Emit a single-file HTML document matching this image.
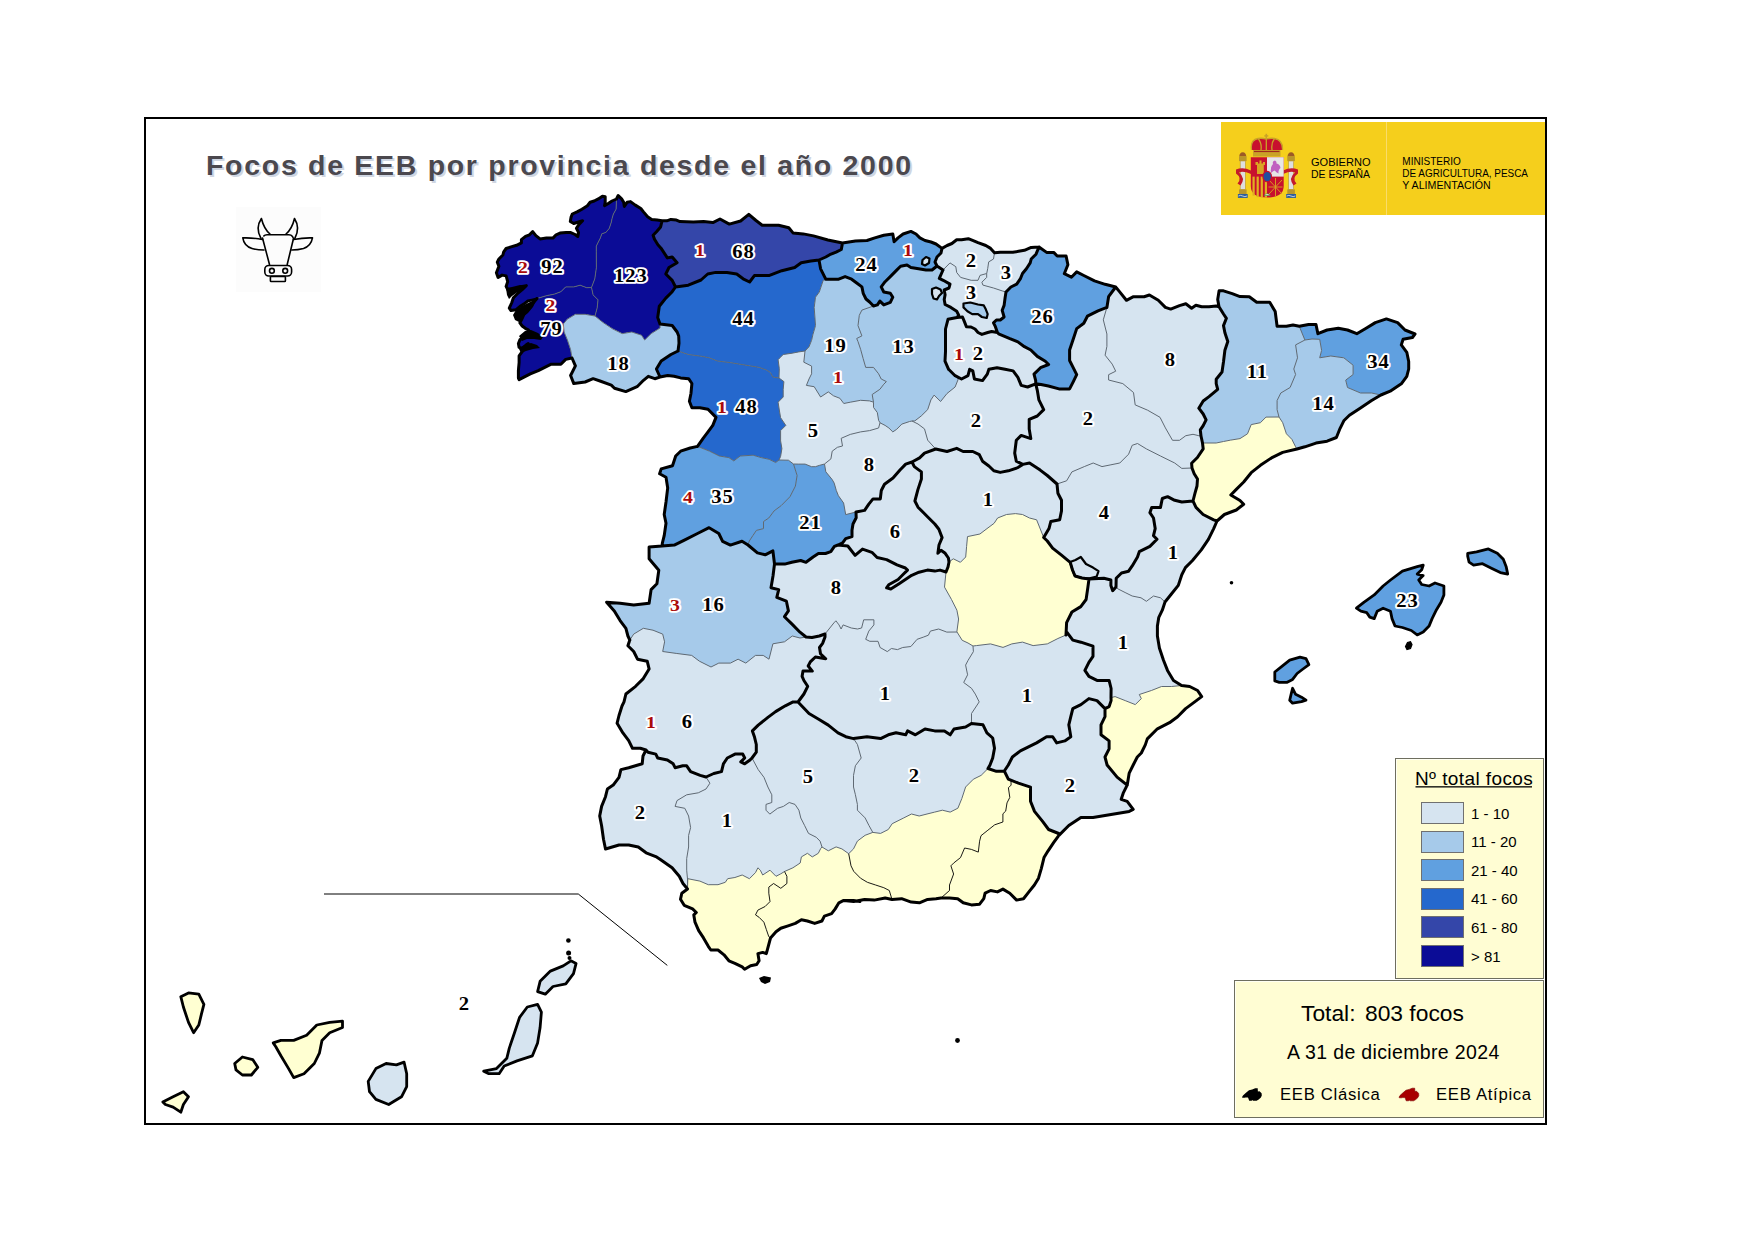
<!DOCTYPE html><html><head><meta charset="utf-8"><style>
html,body{margin:0;padding:0;background:#fff}
body{width:1753px;height:1241px;position:relative;overflow:hidden;font-family:"Liberation Sans",sans-serif}
#frame{position:absolute;left:144px;top:117px;width:1399px;height:1004px;border:2px solid #000}
svg{position:absolute;left:0;top:0}
svg text{font-family:"Liberation Sans",sans-serif;fill:#000}
text.tt{font-weight:bold;font-size:28.5px;letter-spacing:1.7px}
text.lg{font-size:15px}
text.b,text.r{font-family:"Liberation Serif",serif;font-weight:bold;font-size:17.8px;letter-spacing:0.8px;text-anchor:middle;paint-order:stroke;stroke:#fff;stroke-width:3.6px;stroke-linejoin:round}
text.r{font-size:17px}
text.b{fill:#000}
text.r{fill:#aa0a0a}
#logo{position:absolute;left:1221px;top:122px;width:324px;height:93px;background:#f5cf1c}
#logo .div{position:absolute;left:165px;top:0;width:1px;height:93px;background:#f9dc6a}
#leg{position:absolute;left:1395px;top:758px;width:149px;height:221px;background:#fffdd3;border:1px solid #6e6e5f;box-sizing:border-box;box-shadow:inset 1px 1px 0 #fffff2}
#leg .sw{position:absolute;left:25px;width:43px;height:22px;border:1px solid #707070;box-sizing:border-box}
#tot{position:absolute;left:1234px;top:980px;width:310px;height:138px;background:#fffdd3;border:1px solid #6e6e5f;box-sizing:border-box;box-shadow:inset 1px 1px 0 #fffff2}
#tot div{position:absolute;white-space:nowrap;color:#000}
</style></head><body>
<div id="frame"></div>
<div id="logo"><div class="div"></div>
</div>
<svg width="1753" height="1241" viewBox="0 0 1753 1241">
<rect x="236" y="207" width="85" height="85" fill="#fcfcfc"/>
<g fill="none" stroke="#000" stroke-width="1.6" stroke-linejoin="round" stroke-linecap="round">
<path d="M263.8 236 Q265 234.5 268 234.8 L288 234.8 Q291 234.5 292.5 236.5 L293.5 238.5 L287.2 264.5 M262.5 238 L269.5 264.5"/>
<path d="M261 238.5 Q255 228 261.4 218.5 Q264 229 270 234"/>
<path d="M294.8 238.5 Q300.5 228 294.5 218.5 Q292 229 286 234"/>
<path d="M262.5 239.5 Q252 237.5 242.8 237.9 Q244 246 252 248.5 Q257 250 264 250"/>
<path d="M293.5 239.5 Q304 237.5 312.5 237.9 Q311 246 303.5 248.5 Q298 250 291.8 250"/>
<rect x="264.8" y="265.5" width="26.8" height="10.5" rx="4"/>
<circle cx="271.9" cy="270.8" r="2.4"/><circle cx="285.2" cy="270.8" r="2.4"/>
<rect x="270.4" y="276.5" width="15" height="5" rx="0.8"/>
</g>
<path d="M519.1 379.6 L518.4 378.1 L518.4 370.4 L519.1 362.7 L519.1 355.8 L520.7 353.6 L523.0 350.5 L526.0 346.7 L528.3 343.6 L526.0 345.1 L522.2 348.2 L519.1 347.4 L518.4 343.6 L519.9 339.8 L523.0 337.5 L524.5 334.4 L526.8 332.9 L529.9 332.1 L528.3 329.8 L525.3 328.3 L522.2 326.0 L519.9 322.9 L522.2 318.3 L524.5 313.0 L526.8 309.9 L529.9 307.6 L533.0 303.0 L537.0 298.5 L535.9 299.3 L531.9 300.1 L527.9 300.9 L523.8 304.1 L519.8 306.6 L515.8 309.8 L511.0 310.6 L509.3 308.2 L511.8 302.5 L513.4 297.7 L517.4 293.7 L522.2 289.6 L526.3 285.6 L522.2 286.4 L517.4 289.6 L514.2 291.2 L511.0 293.7 L508.5 291.2 L506.1 286.4 L507.7 281.6 L506.1 275.9 L502.1 275.1 L498.1 277.5 L496.4 272.7 L498.9 266.3 L497.3 262.2 L498.9 259.0 L502.9 255.0 L503.7 251.8 L506.1 248.5 L511.0 246.9 L516.6 245.3 L521.4 242.9 L521.4 239.7 L525.5 236.4 L529.5 234.8 L532.7 231.6 L535.9 235.6 L540.0 238.9 L546.4 238.1 L552.9 238.1 L556.1 234.8 L560.0 233.1 L566.2 232.4 L570.3 232.4 L575.1 234.5 L577.8 236.5 L578.5 232.4 L576.4 228.3 L579.2 224.2 L582.6 220.8 L577.8 222.2 L573.7 223.5 L570.3 221.5 L571.0 217.4 L572.3 214.0 L577.1 211.9 L581.9 209.2 L587.4 205.7 L590.1 202.3 L594.2 201.0 L598.3 198.9 L602.4 196.2 L605.2 196.8 L605.2 202.3 L604.5 205.7 L607.9 203.7 L612.0 201.0 L616.5 199.0 L618.2 195.5 L621.6 198.9 L623.7 202.3 L624.3 206.4 L627.1 202.3 L630.5 201.6 L635.3 205.1 L640.8 208.5 L643.5 211.9 L647.6 216.7 L651.7 219.4 L657.2 220.1 L662.0 220.8 L666.8 220.8 L670.9 219.4 L676.4 220.1 L680.0 221.6 L693.3 222.1 L703.6 221.6 L712.9 222.6 L720.0 219.0 L729.3 224.1 L740.6 221.0 L748.8 214.4 L756.0 220.5 L762.2 225.2 L778.6 225.2 L788.8 227.7 L793.0 232.9 L803.2 233.9 L813.5 235.9 L827.9 240.0 L842.5 243.0 L855.4 241.1 L867.0 240.5 L874.8 237.9 L883.8 235.3 L892.8 234.0 L894.1 241.8 L898.0 237.9 L903.1 234.0 L910.9 231.4 L916.0 234.0 L919.9 237.9 L925.0 240.5 L931.0 242.0 L936.0 244.0 L942.0 248.4 L947.1 245.5 L951.9 243.5 L956.7 239.7 L961.6 239.7 L968.3 238.7 L973.2 240.6 L978.0 242.6 L985.8 245.5 L990.6 248.4 L994.5 252.7 L1000.3 252.2 L1007.0 252.2 L1012.8 252.2 L1018.6 251.3 L1024.4 250.3 L1031.2 247.4 L1039.0 247.0 L1046.6 252.4 L1053.7 252.4 L1057.2 256.0 L1066.1 256.0 L1067.9 264.8 L1064.3 273.7 L1071.4 277.2 L1076.7 271.9 L1083.8 275.5 L1094.5 280.8 L1105.1 284.3 L1115.7 287.0 L1119.3 291.4 L1126.4 300.3 L1133.5 296.7 L1144.1 296.7 L1149.4 295.0 L1158.3 300.3 L1165.4 307.4 L1170.7 309.1 L1179.5 305.6 L1185.8 303.8 L1191.6 308.2 L1195.9 305.3 L1201.7 306.7 L1209.0 306.7 L1216.2 306.0 L1219.0 306.7 L1217.7 299.5 L1219.1 290.8 L1223.5 290.8 L1232.2 293.7 L1240.0 296.6 L1249.3 296.7 L1256.7 302.2 L1269.7 302.2 L1275.2 311.5 L1277.1 326.3 L1286.4 326.3 L1293.0 325.0 L1299.3 326.3 L1308.6 324.5 L1316.0 324.5 L1317.9 333.7 L1327.1 330.0 L1338.3 328.2 L1347.5 330.0 L1356.8 333.7 L1366.1 328.2 L1375.3 322.6 L1386.4 318.9 L1397.6 322.6 L1405.0 330.0 L1410.0 332.0 L1415.0 334.0 L1412.4 337.5 L1403.1 339.3 L1401.3 344.9 L1406.8 352.3 L1408.7 361.5 L1408.7 369.0 L1406.8 376.4 L1401.3 383.8 L1390.2 391.2 L1380.9 395.0 L1371.6 400.5 L1360.5 407.9 L1349.4 415.3 L1343.8 420.8 L1340.1 428.3 L1336.4 437.5 L1327.1 441.2 L1316.0 443.1 L1304.9 446.8 L1297.0 449.0 L1282.7 452.4 L1271.5 457.9 L1260.4 465.3 L1251.2 472.7 L1243.7 482.0 L1236.3 489.4 L1230.8 495.0 L1240.0 500.5 L1243.7 504.2 L1236.3 510.0 L1224.4 514.5 L1217.0 521.0 L1213.7 528.6 L1208.4 539.3 L1201.3 549.9 L1192.5 560.5 L1185.4 567.6 L1181.8 574.7 L1178.3 585.4 L1171.2 594.2 L1165.0 602.0 L1162.3 610.2 L1158.8 617.3 L1157.4 626.0 L1157.4 636.0 L1159.4 648.0 L1163.5 660.3 L1167.5 670.4 L1173.5 680.4 L1181.6 685.5 L1189.7 686.5 L1197.6 690.5 L1201.7 696.6 L1193.7 702.6 L1185.6 708.6 L1177.6 716.7 L1169.5 722.7 L1157.4 728.8 L1147.3 738.9 L1145.3 744.9 L1141.3 753.0 L1137.3 757.0 L1133.2 765.0 L1129.2 773.1 L1127.2 785.2 L1123.2 793.2 L1121.2 799.3 L1127.2 801.3 L1133.2 809.4 L1129.2 811.4 L1117.1 813.4 L1105.0 815.4 L1093.0 817.4 L1080.9 817.4 L1068.8 825.5 L1058.7 835.6 L1053.6 842.6 L1048.1 850.8 L1044.0 857.6 L1041.3 868.6 L1038.5 878.2 L1034.4 885.0 L1028.9 891.9 L1023.5 898.7 L1016.6 900.1 L1009.8 893.2 L1002.9 889.1 L997.4 891.9 L990.6 890.5 L985.1 893.2 L983.8 898.7 L979.6 904.2 L971.4 904.9 L963.2 902.8 L957.7 898.7 L949.5 898.0 L941.0 898.0 L936.0 898.7 L927.6 899.4 L919.4 902.8 L911.2 902.1 L901.6 898.7 L892.0 899.5 L885.2 898.0 L874.2 900.1 L864.6 899.4 L853.7 901.4 L843.7 900.4 L838.9 902.8 L835.2 908.9 L831.6 913.7 L824.4 916.1 L821.9 921.0 L814.7 923.4 L807.4 921.0 L801.4 919.8 L795.3 923.4 L788.1 925.8 L780.8 928.2 L776.0 931.8 L770.5 938.0 L767.6 948.8 L766.3 953.6 L762.7 952.4 L757.9 953.6 L759.1 960.8 L756.7 964.5 L750.6 965.7 L744.6 969.3 L742.2 966.9 L734.9 963.3 L728.9 960.8 L724.0 954.8 L718.0 950.0 L710.8 950.0 L708.3 946.3 L703.5 937.9 L698.7 930.6 L695.0 922.2 L693.8 914.9 L696.3 912.5 L692.6 908.9 L684.2 905.3 L680.5 899.2 L681.8 893.2 L687.5 889.0 L683.0 883.5 L679.3 876.3 L672.1 867.8 L660.0 859.3 L655.8 856.6 L646.1 852.8 L638.3 847.0 L628.7 845.0 L619.0 845.0 L605.5 849.0 L603.5 839.2 L601.6 825.7 L599.7 816.0 L601.6 806.4 L605.5 796.7 L607.4 789.0 L613.2 785.1 L619.0 777.4 L620.9 769.6 L628.7 767.7 L642.2 763.8 L643.0 756.0 L646.0 750.0 L640.3 748.3 L632.5 748.3 L628.7 740.6 L622.9 732.9 L617.1 723.2 L619.0 715.5 L622.0 706.0 L624.0 701.8 L625.9 694.0 L635.6 686.3 L643.3 678.6 L649.1 668.9 L647.2 661.2 L637.5 659.2 L633.7 651.5 L627.9 645.7 L629.8 640.0 L627.9 636.0 L625.9 628.3 L620.1 620.6 L614.3 610.9 L606.6 602.2 L620.1 603.2 L633.7 605.1 L649.1 603.2 L651.1 589.6 L656.9 583.8 L658.8 570.3 L649.1 558.7 L649.1 547.1 L662.0 546.0 L662.4 542.8 L664.2 535.7 L666.0 523.3 L664.2 514.5 L666.0 502.0 L667.7 487.9 L666.0 477.2 L659.6 473.8 L661.2 468.9 L672.5 465.7 L675.7 456.0 L680.6 451.2 L690.2 448.0 L697.5 446.4 L703.1 438.3 L708.0 431.9 L712.8 425.4 L716.0 417.4 L708.0 409.3 L699.9 407.7 L691.9 407.7 L689.4 401.2 L691.0 393.2 L691.9 383.5 L688.6 378.7 L680.6 377.9 L674.1 376.3 L667.7 375.5 L660.0 377.0 L654.8 378.7 L648.3 376.3 L643.5 380.3 L637.1 386.7 L625.8 391.6 L614.5 388.3 L611.3 385.1 L600.0 381.0 L593.1 378.7 L585.1 382.0 L573.8 383.6 L570.6 375.5 L575.4 365.8 L572.0 358.0 L565.7 359.4 L560.9 364.2 L551.2 364.2 L538.3 370.7 L530.3 373.9 L519.1 379.6 Z" fill="#d6e4f0"/>
<path d="M519.1 379.6 L518.4 378.1 L518.4 370.4 L519.1 362.7 L519.1 355.8 L520.7 353.6 L523.0 350.5 L526.0 346.7 L528.3 343.6 L526.0 345.1 L522.2 348.2 L519.1 347.4 L518.4 343.6 L519.9 339.8 L523.0 337.5 L524.5 334.4 L526.8 332.9 L529.9 332.1 L528.3 329.8 L525.3 328.3 L522.2 326.0 L519.9 322.9 L522.2 318.3 L524.5 313.0 L526.8 309.9 L529.9 307.6 L533.0 303.0 L537.0 298.5 L546.4 295.7 L554.5 294.1 L560.9 291.7 L565.7 286.9 L573.8 286.9 L580.2 285.2 L586.7 287.7 L591.5 287.5 L593.1 294.9 L598.0 299.8 L597.2 307.8 L595.0 316.0 L585.1 314.3 L575.4 314.3 L567.4 319.1 L563.3 323.9 L564.1 332.0 L567.4 340.0 L570.6 349.7 L572.0 358.0 L565.7 359.4 L560.9 364.2 L551.2 364.2 L538.3 370.7 L530.3 373.9 L519.1 379.6 Z" fill="#0b0c96"/>
<path d="M537.0 298.5 L535.9 299.3 L531.9 300.1 L527.9 300.9 L523.8 304.1 L519.8 306.6 L515.8 309.8 L511.0 310.6 L509.3 308.2 L511.8 302.5 L513.4 297.7 L517.4 293.7 L522.2 289.6 L526.3 285.6 L522.2 286.4 L517.4 289.6 L514.2 291.2 L511.0 293.7 L508.5 291.2 L506.1 286.4 L507.7 281.6 L506.1 275.9 L502.1 275.1 L498.1 277.5 L496.4 272.7 L498.9 266.3 L497.3 262.2 L498.9 259.0 L502.9 255.0 L503.7 251.8 L506.1 248.5 L511.0 246.9 L516.6 245.3 L521.4 242.9 L521.4 239.7 L525.5 236.4 L529.5 234.8 L532.7 231.6 L535.9 235.6 L540.0 238.9 L546.4 238.1 L552.9 238.1 L556.1 234.8 L560.0 233.1 L566.2 232.4 L570.3 232.4 L575.1 234.5 L577.8 236.5 L578.5 232.4 L576.4 228.3 L579.2 224.2 L582.6 220.8 L577.8 222.2 L573.7 223.5 L570.3 221.5 L571.0 217.4 L572.3 214.0 L577.1 211.9 L581.9 209.2 L587.4 205.7 L590.1 202.3 L594.2 201.0 L598.3 198.9 L602.4 196.2 L605.2 196.8 L605.2 202.3 L604.5 205.7 L607.9 203.7 L612.0 201.0 L616.5 199.0 L616.1 209.2 L613.4 214.0 L612.0 218.7 L611.3 222.2 L609.3 228.3 L605.9 232.4 L601.8 233.8 L600.4 237.9 L598.3 242.0 L596.3 246.1 L596.3 251.4 L596.4 267.5 L594.8 278.8 L591.5 287.5 L586.7 287.7 L580.2 285.2 L573.8 286.9 L565.7 286.9 L560.9 291.7 L554.5 294.1 L546.4 295.7 L537.0 298.5 Z" fill="#0b0c96"/>
<path d="M616.5 199.0 L618.2 195.5 L621.6 198.9 L623.7 202.3 L624.3 206.4 L627.1 202.3 L630.5 201.6 L635.3 205.1 L640.8 208.5 L643.5 211.9 L647.6 216.7 L651.7 219.4 L657.2 220.1 L662.0 220.8 L660.6 227.0 L656.5 231.8 L653.1 235.2 L654.5 239.3 L657.9 244.8 L661.0 248.2 L667.4 257.9 L672.2 257.0 L677.1 262.7 L669.0 267.5 L665.8 274.0 L672.2 280.4 L675.5 287.0 L672.2 291.7 L665.8 298.1 L659.3 306.2 L657.7 317.5 L660.0 324.0 L660.0 328.0 L651.2 333.6 L644.7 340.0 L641.5 335.2 L631.8 332.0 L622.2 333.6 L612.5 328.8 L602.8 322.3 L595.0 316.0 L597.2 307.8 L598.0 299.8 L593.1 294.9 L591.5 287.5 L594.8 278.8 L596.4 267.5 L596.3 251.4 L596.3 246.1 L598.3 242.0 L600.4 237.9 L601.8 233.8 L605.9 232.4 L609.3 228.3 L611.3 222.2 L612.0 218.7 L613.4 214.0 L616.1 209.2 L616.5 199.0 Z" fill="#0b0c96"/>
<path d="M595.0 316.0 L602.8 322.3 L612.5 328.8 L622.2 333.6 L631.8 332.0 L641.5 335.2 L644.7 340.0 L651.2 333.6 L660.0 328.0 L660.0 324.0 L672.2 325.5 L677.1 332.0 L678.7 336.0 L679.0 343.2 L678.0 351.0 L670.9 354.5 L661.2 361.0 L656.4 369.0 L660.0 377.0 L654.8 378.7 L648.3 376.3 L643.5 380.3 L637.1 386.7 L625.8 391.6 L614.5 388.3 L611.3 385.1 L600.0 381.0 L593.1 378.7 L585.1 382.0 L573.8 383.6 L570.6 375.5 L575.4 365.8 L572.0 358.0 L570.6 349.7 L567.4 340.0 L564.1 332.0 L563.3 323.9 L567.4 319.1 L575.4 314.3 L585.1 314.3 L595.0 316.0 Z" fill="#a6caea"/>
<path d="M662.0 220.8 L666.8 220.8 L670.9 219.4 L676.4 220.1 L680.0 221.6 L693.3 222.1 L703.6 221.6 L712.9 222.6 L720.0 219.0 L729.3 224.1 L740.6 221.0 L748.8 214.4 L756.0 220.5 L762.2 225.2 L778.6 225.2 L788.8 227.7 L793.0 232.9 L803.2 233.9 L813.5 235.9 L827.9 240.0 L842.5 243.0 L841.3 249.5 L836.1 252.1 L829.7 254.7 L825.8 257.0 L819.0 260.0 L810.8 261.1 L801.2 262.7 L794.7 267.5 L781.8 270.7 L768.9 275.6 L754.4 275.6 L749.6 282.0 L743.1 278.8 L736.7 274.0 L727.0 272.4 L715.7 272.4 L707.7 274.0 L701.0 280.0 L688.3 285.2 L675.5 287.0 L672.2 280.4 L665.8 274.0 L669.0 267.5 L677.1 262.7 L672.2 257.0 L667.4 257.9 L661.0 248.2 L657.9 244.8 L654.5 239.3 L653.1 235.2 L656.5 231.8 L660.6 227.0 L662.0 220.8 Z" fill="#3446a9"/>
<path d="M675.5 287.0 L688.3 285.2 L701.0 280.0 L707.7 274.0 L715.7 272.4 L727.0 272.4 L736.7 274.0 L743.1 278.8 L749.6 282.0 L754.4 275.6 L768.9 275.6 L781.8 270.7 L794.7 267.5 L801.2 262.7 L810.8 261.1 L819.0 260.0 L820.6 268.8 L824.5 276.6 L825.8 279.2 L823.2 280.4 L819.3 292.0 L815.5 297.2 L814.2 307.5 L815.5 325.6 L812.9 334.6 L811.6 340.3 L809.0 346.8 L805.0 351.0 L798.7 351.9 L792.2 353.2 L783.2 354.5 L780.6 357.1 L778.1 359.7 L779.3 368.7 L779.0 378.0 L772.9 377.0 L770.3 372.5 L766.4 370.0 L759.3 367.4 L749.6 365.8 L739.9 364.2 L730.2 362.6 L717.4 361.0 L709.3 357.8 L701.2 356.2 L688.3 354.5 L678.0 351.0 L679.0 343.2 L678.7 336.0 L677.1 332.0 L672.2 325.5 L660.0 324.0 L657.7 317.5 L659.3 306.2 L665.8 298.1 L672.2 291.7 L675.5 287.0 Z" fill="#2568cd"/>
<path d="M678.0 351.0 L688.3 354.5 L701.2 356.2 L709.3 357.8 L717.4 361.0 L730.2 362.6 L739.9 364.2 L749.6 365.8 L759.3 367.4 L766.4 370.0 L770.3 372.5 L772.9 377.0 L779.0 378.0 L783.9 381.6 L783.2 389.3 L783.2 397.0 L778.1 402.2 L779.3 410.0 L780.6 417.7 L785.8 425.4 L780.6 430.6 L780.6 440.9 L781.9 448.6 L780.6 456.4 L779.0 460.0 L775.7 462.5 L769.2 459.3 L761.2 457.6 L753.1 455.2 L740.2 456.0 L733.8 460.9 L728.9 457.6 L719.3 456.0 L709.6 451.2 L697.5 446.4 L703.1 438.3 L708.0 431.9 L712.8 425.4 L716.0 417.4 L708.0 409.3 L699.9 407.7 L691.9 407.7 L689.4 401.2 L691.0 393.2 L691.9 383.5 L688.6 378.7 L680.6 377.9 L674.1 376.3 L667.7 375.5 L660.0 377.0 L656.4 369.0 L661.2 361.0 L670.9 354.5 L678.0 351.0 Z" fill="#2568cd"/>
<path d="M842.5 243.0 L855.4 241.1 L867.0 240.5 L874.8 237.9 L883.8 235.3 L892.8 234.0 L894.1 241.8 L898.0 237.9 L903.1 234.0 L910.9 231.4 L916.0 234.0 L919.9 237.9 L925.0 240.5 L931.0 242.0 L936.0 244.0 L942.0 248.4 L941.0 253.0 L937.0 257.0 L935.0 262.0 L937.0 266.0 L932.0 270.0 L926.0 270.0 L918.6 268.8 L910.9 267.5 L907.0 265.0 L900.6 266.3 L896.7 270.1 L890.3 276.6 L885.1 281.7 L881.2 286.9 L883.8 292.0 L890.3 293.3 L892.8 297.2 L890.3 302.4 L883.8 304.9 L879.9 301.1 L877.4 304.9 L873.5 306.0 L869.6 302.0 L866.0 299.0 L863.2 293.3 L861.9 286.9 L856.7 283.0 L851.6 279.2 L845.1 276.6 L838.7 279.2 L825.8 279.2 L824.5 276.6 L820.6 268.8 L819.0 260.0 L825.8 257.0 L829.7 254.7 L836.1 252.1 L841.3 249.5 L842.5 243.0 Z" fill="#60a0e0"/>
<path d="M825.8 279.2 L838.7 279.2 L845.1 276.6 L851.6 279.2 L856.7 283.0 L861.9 286.9 L863.2 293.3 L866.0 299.0 L869.6 302.0 L873.5 306.0 L861.9 310.1 L859.3 315.3 L858.0 325.6 L861.9 335.9 L856.7 338.5 L858.0 341.6 L860.6 349.3 L863.1 358.4 L865.7 367.4 L873.5 367.4 L878.6 373.8 L881.2 379.0 L886.4 381.6 L883.8 384.2 L879.9 389.3 L872.2 394.5 L873.5 402.2 L869.6 400.9 L860.6 400.3 L850.3 402.2 L843.8 403.5 L839.9 398.3 L833.5 395.8 L828.3 391.9 L820.6 397.0 L814.2 386.7 L806.4 385.4 L809.0 379.0 L811.6 373.8 L811.6 366.1 L803.8 362.2 L805.0 351.0 L809.0 346.8 L811.6 340.3 L812.9 334.6 L815.5 325.6 L814.2 307.5 L815.5 297.2 L819.3 292.0 L823.2 280.4 L825.8 279.2 Z" fill="#a6caea"/>
<path d="M873.5 306.0 L877.4 304.9 L879.9 301.1 L883.8 304.9 L890.3 302.4 L892.8 297.2 L890.3 293.3 L883.8 292.0 L881.2 286.9 L885.1 281.7 L890.3 276.6 L896.7 270.1 L900.6 266.3 L907.0 265.0 L910.9 267.5 L918.6 268.8 L926.0 270.0 L932.0 270.0 L937.0 266.0 L943.0 270.0 L939.3 278.3 L943.2 280.3 L950.0 284.1 L949.0 288.0 L944.2 290.0 L945.1 294.8 L944.2 299.6 L945.1 304.5 L950.9 307.4 L956.7 311.2 L958.7 315.1 L957.0 317.5 L948.0 319.3 L945.5 329.0 L945.5 340.3 L945.5 351.6 L945.0 361.2 L948.6 369.3 L958.3 379.0 L955.1 387.0 L947.0 393.5 L940.6 401.5 L934.1 395.1 L930.9 399.9 L927.7 409.6 L921.2 416.0 L914.8 420.9 L912.0 421.0 L909.6 421.5 L901.8 424.1 L896.7 429.3 L892.8 431.9 L888.9 428.0 L885.1 425.4 L880.0 422.8 L878.6 420.3 L877.3 412.5 L873.5 407.4 L873.5 402.2 L872.2 394.5 L879.9 389.3 L883.8 384.2 L886.4 381.6 L881.2 379.0 L878.6 373.8 L873.5 367.4 L865.7 367.4 L863.1 358.4 L860.6 349.3 L858.0 341.6 L856.7 338.5 L861.9 335.9 L858.0 325.6 L859.3 315.3 L861.9 310.1 L873.5 306.0 Z" fill="#a6caea"/>
<path d="M1039.0 247.0 L1046.6 252.4 L1053.7 252.4 L1057.2 256.0 L1066.1 256.0 L1067.9 264.8 L1064.3 273.7 L1071.4 277.2 L1076.7 271.9 L1083.8 275.5 L1094.5 280.8 L1105.1 284.3 L1115.7 287.0 L1108.6 296.7 L1106.9 307.4 L1098.0 310.9 L1087.4 316.2 L1083.8 323.3 L1076.7 328.6 L1073.2 339.3 L1069.6 349.9 L1069.6 360.5 L1073.2 367.6 L1076.7 374.7 L1073.2 381.8 L1069.6 388.9 L1059.0 388.9 L1048.4 386.0 L1041.0 384.5 L1035.7 383.8 L1035.7 380.6 L1034.0 374.1 L1040.5 367.7 L1048.6 364.5 L1045.3 361.2 L1037.3 356.4 L1030.8 350.0 L1024.4 346.7 L1017.9 341.9 L1009.9 338.7 L998.6 333.8 L997.4 332.5 L995.4 326.7 L993.5 322.8 L996.4 320.0 L1000.3 320.0 L1004.1 317.0 L1002.2 310.3 L1004.1 305.4 L1005.1 297.7 L1006.0 292.0 L1010.9 287.0 L1016.7 284.1 L1020.6 278.3 L1022.5 273.5 L1026.4 268.7 L1030.2 262.9 L1031.2 259.0 L1036.0 254.2 L1039.0 247.0 Z" fill="#60a0e0"/>
<path d="M1219.0 306.7 L1217.7 299.5 L1219.1 290.8 L1223.5 290.8 L1232.2 293.7 L1240.0 296.6 L1249.3 296.7 L1256.7 302.2 L1269.7 302.2 L1275.2 311.5 L1277.1 326.3 L1286.4 326.3 L1293.0 325.0 L1299.3 326.3 L1302.0 333.0 L1304.9 340.0 L1295.6 344.9 L1297.5 357.8 L1293.8 369.0 L1295.6 374.5 L1290.1 387.5 L1280.8 393.0 L1277.1 400.5 L1277.1 409.7 L1279.0 417.0 L1266.0 417.1 L1260.4 422.7 L1251.2 424.6 L1247.5 433.8 L1240.0 438.6 L1230.7 440.1 L1223.5 441.5 L1216.2 443.0 L1206.1 443.0 L1202.5 443.0 L1201.0 436.0 L1200.3 429.9 L1203.2 425.6 L1206.1 419.8 L1203.2 414.0 L1198.8 408.2 L1203.2 401.0 L1209.0 396.6 L1217.7 389.3 L1216.2 383.6 L1216.2 379.2 L1222.0 372.0 L1223.5 361.8 L1224.9 350.2 L1227.8 341.5 L1224.9 332.8 L1223.5 325.6 L1226.4 318.3 L1223.5 314.0 L1219.0 306.7 Z" fill="#a6caea"/>
<path d="M1299.3 326.3 L1308.6 324.5 L1316.0 324.5 L1317.9 333.7 L1327.1 330.0 L1338.3 328.2 L1347.5 330.0 L1356.8 333.7 L1366.1 328.2 L1375.3 322.6 L1386.4 318.9 L1397.6 322.6 L1405.0 330.0 L1410.0 332.0 L1415.0 334.0 L1412.4 337.5 L1403.1 339.3 L1401.3 344.9 L1406.8 352.3 L1408.7 361.5 L1408.7 369.0 L1406.8 376.4 L1401.3 383.8 L1390.2 391.2 L1380.9 395.0 L1371.6 393.0 L1360.5 393.0 L1347.5 387.5 L1345.7 380.1 L1353.1 374.5 L1353.1 365.2 L1343.8 357.8 L1330.8 356.0 L1319.7 357.8 L1321.6 350.4 L1319.7 339.3 L1312.0 339.0 L1304.9 340.0 L1302.0 333.0 L1299.3 326.3 Z" fill="#60a0e0"/>
<path d="M1304.9 340.0 L1312.0 339.0 L1319.7 339.3 L1321.6 350.4 L1319.7 357.8 L1330.8 356.0 L1343.8 357.8 L1353.1 365.2 L1353.1 374.5 L1345.7 380.1 L1347.5 387.5 L1360.5 393.0 L1371.6 393.0 L1380.9 395.0 L1371.6 400.5 L1360.5 407.9 L1349.4 415.3 L1343.8 420.8 L1340.1 428.3 L1336.4 437.5 L1327.1 441.2 L1316.0 443.1 L1304.9 446.8 L1297.0 449.0 L1295.6 446.8 L1291.9 439.4 L1286.4 433.8 L1282.7 422.7 L1279.0 417.0 L1277.1 409.7 L1277.1 400.5 L1280.8 393.0 L1290.1 387.5 L1295.6 374.5 L1293.8 369.0 L1297.5 357.8 L1295.6 344.9 L1304.9 340.0 Z" fill="#a6caea"/>
<path d="M1279.0 417.0 L1282.7 422.7 L1286.4 433.8 L1291.9 439.4 L1295.6 446.8 L1297.0 449.0 L1282.7 452.4 L1271.5 457.9 L1260.4 465.3 L1251.2 472.7 L1243.7 482.0 L1236.3 489.4 L1230.8 495.0 L1240.0 500.5 L1243.7 504.2 L1236.3 510.0 L1224.4 514.5 L1217.0 521.0 L1213.7 519.8 L1203.1 514.5 L1196.0 507.4 L1193.0 501.0 L1195.0 493.2 L1197.0 486.0 L1197.5 479.0 L1194.2 473.7 L1192.0 468.0 L1191.6 463.3 L1197.4 457.5 L1203.2 448.8 L1202.5 443.0 L1206.1 443.0 L1216.2 443.0 L1223.5 441.5 L1230.7 440.1 L1240.0 438.6 L1247.5 433.8 L1251.2 424.6 L1260.4 422.7 L1266.0 417.1 L1279.0 417.0 Z" fill="#ffffd2"/>
<path d="M1043.7 537.5 L1047.3 541.0 L1052.6 548.1 L1061.5 555.2 L1070.2 562.3 L1072.5 570.0 L1075.0 576.0 L1082.0 578.0 L1089.0 579.0 L1087.9 587.1 L1086.1 599.5 L1080.8 606.6 L1071.9 612.0 L1066.6 622.6 L1066.0 635.0 L1057.9 638.5 L1047.3 643.9 L1033.1 645.6 L1022.5 642.1 L1011.8 643.9 L1003.0 647.4 L990.5 643.9 L976.4 645.6 L973.0 646.0 L968.0 643.0 L962.2 640.3 L957.0 632.0 L956.9 631.5 L958.6 619.0 L956.9 610.2 L951.5 599.5 L944.5 587.1 L946.0 572.0 L948.0 567.0 L949.0 562.0 L953.3 558.8 L960.4 562.3 L965.7 557.0 L966.6 546.4 L967.5 536.6 L979.9 534.0 L987.0 528.6 L994.1 523.3 L997.6 518.0 L1006.5 514.5 L1015.4 513.6 L1022.5 514.5 L1029.5 518.0 L1036.6 519.8 L1043.7 537.5 Z" fill="#ffffd2"/>
<path d="M1181.6 685.5 L1189.7 686.5 L1197.6 690.5 L1201.7 696.6 L1193.7 702.6 L1185.6 708.6 L1177.6 716.7 L1169.5 722.7 L1157.4 728.8 L1147.3 738.9 L1145.3 744.9 L1141.3 753.0 L1137.3 757.0 L1133.2 765.0 L1129.2 773.1 L1127.2 785.2 L1117.1 777.1 L1107.1 765.0 L1105.0 757.0 L1109.1 748.9 L1109.1 740.9 L1101.0 734.8 L1101.0 724.8 L1105.0 716.7 L1105.0 708.6 L1109.1 706.6 L1111.1 700.6 L1111.0 697.6 L1115.1 696.6 L1125.2 700.6 L1135.3 704.6 L1141.3 698.6 L1139.3 694.5 L1151.4 690.5 L1161.5 686.5 L1171.5 686.5 L1181.6 685.5 Z" fill="#ffffd2"/>
<path d="M697.5 446.4 L709.6 451.2 L719.3 456.0 L728.9 457.6 L733.8 460.9 L740.2 456.0 L753.1 455.2 L761.2 457.6 L769.2 459.3 L775.7 462.5 L779.0 460.0 L788.4 460.2 L793.5 464.0 L797.1 475.5 L795.4 486.1 L790.0 496.7 L781.2 505.6 L774.1 510.9 L768.8 518.0 L763.5 521.5 L763.5 528.6 L756.4 530.4 L752.8 535.7 L749.3 541.0 L748.0 545.0 L742.0 541.3 L730.4 545.1 L722.6 541.3 L718.8 533.5 L709.1 527.7 L697.5 533.5 L685.9 539.3 L674.3 545.1 L662.0 546.0 L662.4 542.8 L664.2 535.7 L666.0 523.3 L664.2 514.5 L666.0 502.0 L667.7 487.9 L666.0 477.2 L659.6 473.8 L661.2 468.9 L672.5 465.7 L675.7 456.0 L680.6 451.2 L690.2 448.0 L697.5 446.4 Z" fill="#60a0e0"/>
<path d="M793.5 464.0 L798.7 464.1 L805.1 464.1 L811.6 466.7 L815.4 466.7 L819.3 465.4 L824.5 464.0 L825.8 471.8 L832.2 479.6 L834.2 483.1 L836.3 490.5 L838.4 495.7 L843.6 503.0 L845.7 514.6 L856.0 512.0 L856.2 517.7 L853.0 524.0 L852.0 530.3 L852.0 536.6 L845.7 538.7 L842.6 542.9 L838.0 545.0 L834.4 546.4 L830.8 551.7 L825.5 553.5 L818.4 553.5 L813.1 557.0 L806.0 562.3 L800.7 560.5 L791.8 562.3 L784.7 564.1 L774.5 564.0 L772.9 550.9 L765.2 554.8 L757.4 552.9 L748.0 545.0 L749.3 541.0 L752.8 535.7 L756.4 530.4 L763.5 528.6 L763.5 521.5 L768.8 518.0 L774.1 510.9 L781.2 505.6 L790.0 496.7 L795.4 486.1 L797.1 475.5 L793.5 464.0 Z" fill="#60a0e0"/>
<path d="M662.0 546.0 L674.3 545.1 L685.9 539.3 L697.5 533.5 L709.1 527.7 L718.8 533.5 L722.6 541.3 L730.4 545.1 L742.0 541.3 L748.0 545.0 L757.4 552.9 L765.2 554.8 L772.9 550.9 L774.5 564.0 L773.0 576.0 L771.0 587.7 L778.7 589.6 L776.8 597.4 L786.4 601.2 L788.4 610.9 L784.5 616.7 L792.3 624.4 L800.0 632.2 L806.0 637.0 L800.0 638.0 L792.3 636.0 L784.5 641.8 L772.9 643.8 L769.0 659.2 L763.2 655.4 L755.5 655.4 L745.8 663.1 L738.1 659.2 L730.4 663.1 L718.8 663.1 L711.0 667.0 L699.4 661.2 L691.7 655.4 L676.2 653.4 L662.7 651.5 L664.6 641.8 L662.7 634.1 L653.0 630.2 L643.3 628.3 L633.7 634.1 L629.8 640.0 L627.9 636.0 L625.9 628.3 L620.1 620.6 L614.3 610.9 L606.6 602.2 L620.1 603.2 L633.7 605.1 L649.1 603.2 L651.1 589.6 L656.9 583.8 L658.8 570.3 L649.1 558.7 L649.1 547.1 L662.0 546.0 Z" fill="#a6caea"/>
<path d="M687.5 889.0 L687.8 878.7 L699.9 881.1 L708.3 884.7 L718.0 884.7 L725.3 882.3 L727.7 878.7 L734.9 877.5 L742.2 875.0 L749.4 878.7 L755.5 872.6 L757.9 867.8 L760.3 870.2 L762.7 875.0 L770.0 870.2 L776.0 876.3 L780.8 873.8 L784.5 871.5 L792.9 867.8 L800.2 863.0 L801.4 856.9 L807.4 853.3 L812.3 856.9 L818.3 853.3 L820.7 848.5 L822.0 847.0 L828.3 850.8 L836.1 846.9 L841.9 848.9 L848.7 853.7 L853.5 848.9 L857.4 841.1 L865.1 835.3 L872.8 832.4 L880.6 833.4 L888.3 829.5 L892.2 823.7 L903.8 817.9 L911.5 814.0 L919.2 816.0 L927.0 814.0 L934.7 812.1 L942.4 810.2 L950.2 812.1 L957.9 808.2 L961.8 798.6 L965.6 787.0 L973.4 779.2 L981.1 775.4 L988.0 768.5 L996.4 771.3 L1004.3 771.0 L1008.3 779.1 L1018.4 783.2 L1030.5 787.2 L1030.5 801.3 L1034.5 811.4 L1042.6 821.4 L1048.6 829.5 L1058.7 833.5 L1058.7 835.6 L1053.6 842.6 L1048.1 850.8 L1044.0 857.6 L1041.3 868.6 L1038.5 878.2 L1034.4 885.0 L1028.9 891.9 L1023.5 898.7 L1016.6 900.1 L1009.8 893.2 L1002.9 889.1 L997.4 891.9 L990.6 890.5 L985.1 893.2 L983.8 898.7 L979.6 904.2 L971.4 904.9 L963.2 902.8 L957.7 898.7 L949.5 898.0 L941.0 898.0 L936.0 898.7 L927.6 899.4 L919.4 902.8 L911.2 902.1 L901.6 898.7 L892.0 899.5 L885.2 898.0 L874.2 900.1 L864.6 899.4 L853.7 901.4 L843.7 900.4 L838.9 902.8 L835.2 908.9 L831.6 913.7 L824.4 916.1 L821.9 921.0 L814.7 923.4 L807.4 921.0 L801.4 919.8 L795.3 923.4 L788.1 925.8 L780.8 928.2 L776.0 931.8 L770.5 938.0 L767.6 948.8 L766.3 953.6 L762.7 952.4 L757.9 953.6 L759.1 960.8 L756.7 964.5 L750.6 965.7 L744.6 969.3 L742.2 966.9 L734.9 963.3 L728.9 960.8 L724.0 954.8 L718.0 950.0 L710.8 950.0 L708.3 946.3 L703.5 937.9 L698.7 930.6 L695.0 922.2 L693.8 914.9 L696.3 912.5 L692.6 908.9 L684.2 905.3 L680.5 899.2 L681.8 893.2 L687.5 889.0 Z" fill="#ffffd2"/>
<path d="M616.5 199.0 L616.1 209.2 L613.4 214.0 L612.0 218.7 L611.3 222.2 L609.3 228.3 L605.9 232.4 L601.8 233.8 L600.4 237.9 L598.3 242.0 L596.3 246.1 L596.3 251.4 L596.4 267.5 L594.8 278.8 L591.5 287.5 M537.0 298.5 L546.4 295.7 L554.5 294.1 L560.9 291.7 L565.7 286.9 L573.8 286.9 L580.2 285.2 L586.7 287.7 L591.5 287.5 M591.5 287.5 L593.1 294.9 L598.0 299.8 L597.2 307.8 L595.0 316.0 M595.0 316.0 L585.1 314.3 L575.4 314.3 L567.4 319.1 L563.3 323.9 L564.1 332.0 L567.4 340.0 L570.6 349.7 L572.0 358.0 M595.0 316.0 L602.8 322.3 L612.5 328.8 L622.2 333.6 L631.8 332.0 L641.5 335.2 L644.7 340.0 L651.2 333.6 L660.0 328.0 L660.0 324.0 M825.8 279.2 L823.2 280.4 L819.3 292.0 L815.5 297.2 L814.2 307.5 L815.5 325.6 L812.9 334.6 L811.6 340.3 L809.0 346.8 L805.0 351.0 M873.5 306.0 L861.9 310.1 L859.3 315.3 L858.0 325.6 L861.9 335.9 L856.7 338.5 L858.0 341.6 L860.6 349.3 L863.1 358.4 L865.7 367.4 L873.5 367.4 L878.6 373.8 L881.2 379.0 L886.4 381.6 L883.8 384.2 L879.9 389.3 L872.2 394.5 L873.5 402.2 M805.0 351.0 L803.8 362.2 L811.6 366.1 L811.6 373.8 L809.0 379.0 L806.4 385.4 L814.2 386.7 L820.6 397.0 L828.3 391.9 L833.5 395.8 L839.9 398.3 L843.8 403.5 L850.3 402.2 L860.6 400.3 L869.6 400.9 L873.5 402.2 M805.0 351.0 L798.7 351.9 L792.2 353.2 L783.2 354.5 L780.6 357.1 L778.1 359.7 L779.3 368.7 L779.0 378.0 M678.0 351.0 L688.3 354.5 L701.2 356.2 L709.3 357.8 L717.4 361.0 L730.2 362.6 L739.9 364.2 L749.6 365.8 L759.3 367.4 L766.4 370.0 L770.3 372.5 L772.9 377.0 L779.0 378.0 M779.0 378.0 L783.9 381.6 L783.2 389.3 L783.2 397.0 L778.1 402.2 L779.3 410.0 L780.6 417.7 L785.8 425.4 L780.6 430.6 L780.6 440.9 L781.9 448.6 L780.6 456.4 L779.0 460.0 M779.0 460.0 L788.4 460.2 L793.5 464.0 M793.5 464.0 L798.7 464.1 L805.1 464.1 L811.6 466.7 L815.4 466.7 L819.3 465.4 L824.5 464.0 M824.5 464.0 L830.9 458.9 L832.2 451.2 L837.4 447.3 L842.5 446.0 L841.2 438.3 L850.3 434.4 L860.6 431.9 L869.6 430.6 L878.6 428.0 L880.0 422.8 M873.5 402.2 L873.5 407.4 L877.3 412.5 L878.6 420.3 L880.0 422.8 M880.0 422.8 L885.1 425.4 L888.9 428.0 L892.8 431.9 L896.7 429.3 L901.8 424.1 L909.6 421.5 L912.0 421.0 M948.6 369.3 L958.3 379.0 L955.1 387.0 L947.0 393.5 L940.6 401.5 L934.1 395.1 L930.9 399.9 L927.7 409.6 L921.2 416.0 L914.8 420.9 L912.0 421.0 M912.0 421.0 L918.0 424.0 L924.5 428.9 L927.7 440.2 L935.7 449.0 M994.5 252.7 L993.5 259.0 L988.7 261.9 L987.7 268.7 L986.7 273.5 M943.0 270.0 L950.0 262.9 L955.8 266.7 L956.7 272.5 L960.6 277.4 L971.2 280.3 L978.0 280.3 L980.0 275.4 L986.7 273.5 M986.7 273.5 L986.7 277.4 L981.9 282.2 L982.9 285.1 L993.5 288.0 L1002.2 290.9 L1006.0 292.0 M1106.9 307.4 L1103.3 319.8 L1106.9 334.0 L1106.9 346.4 L1105.1 355.2 L1112.2 364.1 L1115.7 371.2 L1108.6 374.7 L1108.6 380.0 L1122.8 383.6 L1133.5 392.5 L1135.2 404.9 L1147.6 410.2 L1160.0 417.3 L1165.4 427.9 L1172.5 440.3 L1179.5 440.3 L1185.8 435.7 L1193.0 434.3 L1198.8 435.7 L1201.0 436.0 M1299.3 326.3 L1302.0 333.0 L1304.9 340.0 M1304.9 340.0 L1312.0 339.0 L1319.7 339.3 L1321.6 350.4 L1319.7 357.8 L1330.8 356.0 L1343.8 357.8 L1353.1 365.2 L1353.1 374.5 L1345.7 380.1 L1347.5 387.5 L1360.5 393.0 L1371.6 393.0 L1380.9 395.0 M1304.9 340.0 L1295.6 344.9 L1297.5 357.8 L1293.8 369.0 L1295.6 374.5 L1290.1 387.5 L1280.8 393.0 L1277.1 400.5 L1277.1 409.7 L1279.0 417.0 M1279.0 417.0 L1266.0 417.1 L1260.4 422.7 L1251.2 424.6 L1247.5 433.8 L1240.0 438.6 L1230.7 440.1 L1223.5 441.5 L1216.2 443.0 L1206.1 443.0 L1202.5 443.0 M1279.0 417.0 L1282.7 422.7 L1286.4 433.8 L1291.9 439.4 L1295.6 446.8 L1297.0 449.0 M1057.0 484.0 L1066.6 480.8 L1071.9 471.9 L1084.3 466.6 L1093.2 463.0 L1102.0 466.6 L1110.9 464.8 L1119.8 463.0 L1128.6 454.2 L1132.2 445.3 L1137.5 443.5 L1146.4 448.9 L1160.5 456.0 L1174.7 463.0 L1181.8 468.4 L1192.0 468.0 M1116.0 587.0 L1118.0 588.9 L1125.1 592.5 L1132.2 596.0 L1141.0 597.8 L1146.4 601.3 L1153.5 596.0 L1160.5 597.8 L1165.0 602.0 M1043.7 537.5 L1036.6 519.8 L1029.5 518.0 L1022.5 514.5 L1015.4 513.6 L1006.5 514.5 L997.6 518.0 L994.1 523.3 L987.0 528.6 L979.9 534.0 L967.5 536.6 L966.6 546.4 L965.7 557.0 L960.4 562.3 L953.3 558.8 L949.0 562.0 M824.5 464.0 L825.8 471.8 L832.2 479.6 L834.2 483.1 L836.3 490.5 L838.4 495.7 L843.6 503.0 L845.7 514.6 L856.0 512.0 M946.0 572.0 L944.5 587.1 L951.5 599.5 L956.9 610.2 L958.6 619.0 L956.9 631.5 L957.0 632.0 M957.0 632.0 L962.2 640.3 L968.0 643.0 L973.0 646.0 M973.0 646.0 L976.4 645.6 L990.5 643.9 L1003.0 647.4 L1011.8 643.9 L1022.5 642.1 L1033.1 645.6 L1047.3 643.9 L1057.9 638.5 L1066.0 635.0 M697.5 446.4 L709.6 451.2 L719.3 456.0 L728.9 457.6 L733.8 460.9 L740.2 456.0 L753.1 455.2 L761.2 457.6 L769.2 459.3 L775.7 462.5 L779.0 460.0 M793.5 464.0 L797.1 475.5 L795.4 486.1 L790.0 496.7 L781.2 505.6 L774.1 510.9 L768.8 518.0 L763.5 521.5 L763.5 528.6 L756.4 530.4 L752.8 535.7 L749.3 541.0 L748.0 545.0 M629.8 640.0 L633.7 634.1 L643.3 628.3 L653.0 630.2 L662.7 634.1 L664.6 641.8 L662.7 651.5 L676.2 653.4 L691.7 655.4 L699.4 661.2 L711.0 667.0 L718.8 663.1 L730.4 663.1 L738.1 659.2 L745.8 663.1 L755.5 655.4 L763.2 655.4 L769.0 659.2 L772.9 643.8 L784.5 641.8 L792.3 636.0 L800.0 638.0 L806.0 637.0 M706.0 777.0 L709.9 783.2 L706.0 789.0 L698.3 792.8 L686.7 794.8 L677.0 800.6 L675.1 806.4 L684.8 808.3 L688.6 816.0 L690.6 827.6 L688.6 835.4 L688.6 847.0 L686.7 858.6 L686.7 870.2 L687.5 879.0 L687.5 889.0 M752.0 758.0 L758.2 769.6 L764.0 777.4 L767.9 787.0 L771.8 794.8 L771.8 802.5 L766.0 804.4 L766.0 810.2 L769.8 814.1 L777.6 808.3 L783.4 806.4 L789.2 802.5 L795.0 804.4 L798.9 810.2 L800.8 818.0 L804.7 825.7 L808.5 833.4 L816.3 837.3 L820.1 841.2 L822.0 847.0 M687.5 889.0 L687.8 878.7 L699.9 881.1 L708.3 884.7 L718.0 884.7 L725.3 882.3 L727.7 878.7 L734.9 877.5 L742.2 875.0 L749.4 878.7 L755.5 872.6 L757.9 867.8 L760.3 870.2 L762.7 875.0 L770.0 870.2 L776.0 876.3 L780.8 873.8 L784.5 871.5 M784.5 871.5 L792.9 867.8 L800.2 863.0 L801.4 856.9 L807.4 853.3 L812.3 856.9 L818.3 853.3 L820.7 848.5 L822.0 847.0 M825.0 634.0 L829.8 628.0 L833.9 622.9 L835.9 620.8 L839.0 624.9 L841.1 629.0 L843.1 624.9 L851.3 628.0 L857.5 629.0 L861.6 628.0 L863.7 619.8 L873.9 619.8 L873.9 624.9 L868.8 631.1 L865.7 639.3 L869.8 641.3 L878.0 641.3 L880.1 647.5 L887.3 651.6 L891.4 648.5 L897.5 649.6 L902.7 647.5 L910.9 646.5 L917.1 639.3 L923.2 637.2 L928.4 635.2 L930.4 631.1 L938.6 629.0 L946.8 632.1 L957.0 632.0 M973.0 646.0 L973.4 651.6 L968.1 660.3 L965.6 665.1 L967.6 674.8 L963.7 682.5 L971.5 688.3 L975.3 694.1 L979.2 701.9 L971.5 713.5 L971.5 723.5 M1111.0 697.6 L1115.1 696.6 L1125.2 700.6 L1135.3 704.6 L1141.3 698.6 L1139.3 694.5 L1151.4 690.5 L1161.5 686.5 L1171.5 686.5 L1181.6 685.5 M853.5 738.6 L857.4 744.4 L861.2 758.0 L855.4 765.7 L853.5 775.4 L853.5 787.0 L855.4 794.7 L857.4 804.4 L857.4 810.2 L865.1 817.9 L869.0 825.6 L872.8 832.4 M988.0 768.5 L981.1 775.4 L973.4 779.2 L965.6 787.0 L961.8 798.6 L957.9 808.2 L950.2 812.1 L942.4 810.2 L934.7 812.1 L927.0 814.0 L919.2 816.0 L911.5 814.0 L903.8 817.9 L892.2 823.7 L888.3 829.5 L880.6 833.4 L872.8 832.4 M872.8 832.4 L865.1 835.3 L857.4 841.1 L853.5 848.9 L848.7 853.7 M822.0 847.0 L828.3 850.8 L836.1 846.9 L841.9 848.9 L848.7 853.7" fill="none" stroke="#5f6973" stroke-width="1" stroke-linejoin="round"/>
<path d="M784.5 871.5 L786.9 876.3 L786.9 883.5 L780.8 888.3 L773.6 883.5 L768.8 887.1 L768.8 893.2 L770.0 901.6 L765.1 906.5 L757.9 910.1 L755.5 914.9 L759.1 917.3 L763.9 922.2 L766.3 929.4 L768.8 936.7 L770.5 938.0 M848.7 853.7 L851.0 865.8 L853.7 871.3 L860.5 878.2 L867.4 882.3 L875.6 885.0 L883.8 887.7 L889.3 890.5 L892.0 899.5 M1011.0 781.0 L1011.1 785.1 L1008.4 787.8 L1009.8 797.4 L1007.0 802.9 L1005.7 811.1 L1002.9 813.8 L1002.9 822.0 L994.7 824.8 L987.9 830.2 L981.0 835.7 L979.6 841.2 L978.3 852.1 L971.4 849.4 L964.6 848.0 L960.5 857.6 L953.6 863.1 L950.9 865.8 L953.6 874.0 L949.5 885.0 L949.5 890.5 L941.0 898.0" fill="none" stroke="#000" stroke-width="0.9" stroke-linejoin="round"/>
<path d="M963.5 303.5 L970.3 302.5 L978.0 304.5 L983.8 305.4 L985.8 309.3 L987.7 314.1 L986.7 318.0 L981.9 317.0 L978.0 314.1 L972.2 314.1 L967.4 311.2 L963.5 307.4 Z" fill="#a6caea" stroke="#000" stroke-width="2.2" stroke-linejoin="round"/>
<path d="M932.0 289.0 L936.0 287.5 L940.5 289.5 L942.0 293.0 L939.0 296.0 L937.0 299.5 L933.5 298.5 L932.0 294.0 Z" fill="#d6e4f0" stroke="#000" stroke-width="2.2" stroke-linejoin="round"/>
<path d="M922.5 260.0 L926.0 257.0 L929.5 258.5 L929.0 263.0 L925.0 265.5 L922.0 264.0 Z" fill="#d6e4f0" stroke="#000" stroke-width="2.2" stroke-linejoin="round"/>
<path d="M1070.0 562.0 L1075.5 560.0 L1080.8 557.0 L1086.0 564.0 L1093.0 567.6 L1098.5 571.2 L1096.7 576.5 L1089.6 578.3 L1082.0 578.0 L1075.0 576.0 L1072.5 570.0 Z" fill="#d6e4f0" stroke="#000" stroke-width="2.2" stroke-linejoin="round"/>
<path d="M519.1 379.6 L518.4 378.1 L518.4 370.4 L519.1 362.7 L519.1 355.8 L520.7 353.6 L523.0 350.5 L526.0 346.7 L528.3 343.6 L526.0 345.1 L522.2 348.2 L519.1 347.4 L518.4 343.6 L519.9 339.8 L523.0 337.5 L524.5 334.4 L526.8 332.9 L529.9 332.1 L528.3 329.8 L525.3 328.3 L522.2 326.0 L519.9 322.9 L522.2 318.3 L524.5 313.0 L526.8 309.9 L529.9 307.6 L533.0 303.0 L537.0 298.5 M537.0 298.5 L535.9 299.3 L531.9 300.1 L527.9 300.9 L523.8 304.1 L519.8 306.6 L515.8 309.8 L511.0 310.6 L509.3 308.2 L511.8 302.5 L513.4 297.7 L517.4 293.7 L522.2 289.6 L526.3 285.6 L522.2 286.4 L517.4 289.6 L514.2 291.2 L511.0 293.7 L508.5 291.2 L506.1 286.4 L507.7 281.6 L506.1 275.9 L502.1 275.1 L498.1 277.5 L496.4 272.7 L498.9 266.3 L497.3 262.2 L498.9 259.0 L502.9 255.0 L503.7 251.8 L506.1 248.5 L511.0 246.9 L516.6 245.3 L521.4 242.9 L521.4 239.7 L525.5 236.4 L529.5 234.8 L532.7 231.6 L535.9 235.6 L540.0 238.9 L546.4 238.1 L552.9 238.1 L556.1 234.8 L560.0 233.1 L566.2 232.4 L570.3 232.4 L575.1 234.5 L577.8 236.5 L578.5 232.4 L576.4 228.3 L579.2 224.2 L582.6 220.8 L577.8 222.2 L573.7 223.5 L570.3 221.5 L571.0 217.4 L572.3 214.0 L577.1 211.9 L581.9 209.2 L587.4 205.7 L590.1 202.3 L594.2 201.0 L598.3 198.9 L602.4 196.2 L605.2 196.8 L605.2 202.3 L604.5 205.7 L607.9 203.7 L612.0 201.0 L616.5 199.0 M616.5 199.0 L618.2 195.5 L621.6 198.9 L623.7 202.3 L624.3 206.4 L627.1 202.3 L630.5 201.6 L635.3 205.1 L640.8 208.5 L643.5 211.9 L647.6 216.7 L651.7 219.4 L657.2 220.1 L662.0 220.8 M572.0 358.0 L565.7 359.4 L560.9 364.2 L551.2 364.2 L538.3 370.7 L530.3 373.9 L519.1 379.6 M572.0 358.0 L575.4 365.8 L570.6 375.5 L573.8 383.6 L585.1 382.0 L593.1 378.7 L600.0 381.0 L611.3 385.1 L614.5 388.3 L625.8 391.6 L637.1 386.7 L643.5 380.3 L648.3 376.3 L654.8 378.7 L660.0 377.0 M660.0 377.0 L656.4 369.0 L661.2 361.0 L670.9 354.5 L678.0 351.0 M678.0 351.0 L679.0 343.2 L678.7 336.0 L677.1 332.0 L672.2 325.5 L660.0 324.0 M662.0 220.8 L660.6 227.0 L656.5 231.8 L653.1 235.2 L654.5 239.3 L657.9 244.8 L661.0 248.2 L667.4 257.9 L672.2 257.0 L677.1 262.7 L669.0 267.5 L665.8 274.0 L672.2 280.4 L675.5 287.0 M675.5 287.0 L672.2 291.7 L665.8 298.1 L659.3 306.2 L657.7 317.5 L660.0 324.0 M662.0 220.8 L666.8 220.8 L670.9 219.4 L676.4 220.1 L680.0 221.6 L693.3 222.1 L703.6 221.6 L712.9 222.6 L720.0 219.0 L729.3 224.1 L740.6 221.0 L748.8 214.4 L756.0 220.5 L762.2 225.2 L778.6 225.2 L788.8 227.7 L793.0 232.9 L803.2 233.9 L813.5 235.9 L827.9 240.0 L842.5 243.0 M675.5 287.0 L688.3 285.2 L701.0 280.0 L707.7 274.0 L715.7 272.4 L727.0 272.4 L736.7 274.0 L743.1 278.8 L749.6 282.0 L754.4 275.6 L768.9 275.6 L781.8 270.7 L794.7 267.5 L801.2 262.7 L810.8 261.1 L819.0 260.0 M819.0 260.0 L825.8 257.0 L829.7 254.7 L836.1 252.1 L841.3 249.5 L842.5 243.0 M842.5 243.0 L855.4 241.1 L867.0 240.5 L874.8 237.9 L883.8 235.3 L892.8 234.0 L894.1 241.8 L898.0 237.9 L903.1 234.0 L910.9 231.4 L916.0 234.0 L919.9 237.9 L925.0 240.5 L931.0 242.0 L936.0 244.0 L942.0 248.4 M819.0 260.0 L820.6 268.8 L824.5 276.6 L825.8 279.2 M825.8 279.2 L838.7 279.2 L845.1 276.6 L851.6 279.2 L856.7 283.0 L861.9 286.9 L863.2 293.3 L866.0 299.0 L869.6 302.0 L873.5 306.0 M873.5 306.0 L877.4 304.9 L879.9 301.1 L883.8 304.9 L890.3 302.4 L892.8 297.2 L890.3 293.3 L883.8 292.0 L881.2 286.9 L885.1 281.7 L890.3 276.6 L896.7 270.1 L900.6 266.3 L907.0 265.0 L910.9 267.5 L918.6 268.8 L926.0 270.0 L932.0 270.0 L937.0 266.0 M942.0 248.4 L941.0 253.0 L937.0 257.0 L935.0 262.0 L937.0 266.0 M937.0 266.0 L943.0 270.0 M935.7 449.0 L947.0 451.5 L956.7 448.3 L963.1 451.5 L972.8 451.5 L979.3 454.7 L982.5 461.2 L988.9 466.0 L993.8 470.8 L1000.2 472.4 L1008.3 470.8 L1017.9 467.6 L1022.8 464.4 M935.7 449.0 L924.5 453.1 L919.6 457.9 L912.0 462.0 M1035.7 383.8 L1037.3 390.3 L1038.9 399.9 L1043.7 409.6 L1037.3 416.0 L1029.2 419.3 L1029.2 428.9 L1030.8 438.6 L1021.2 435.4 L1016.3 440.2 L1014.7 453.1 L1016.3 461.2 L1022.8 464.4 M942.0 248.4 L947.1 245.5 L951.9 243.5 L956.7 239.7 L961.6 239.7 L968.3 238.7 L973.2 240.6 L978.0 242.6 L985.8 245.5 L990.6 248.4 L994.5 252.7 M994.5 252.7 L1000.3 252.2 L1007.0 252.2 L1012.8 252.2 L1018.6 251.3 L1024.4 250.3 L1031.2 247.4 L1039.0 247.0 M943.0 270.0 L939.3 278.3 L943.2 280.3 L950.0 284.1 L949.0 288.0 L944.2 290.0 L945.1 294.8 L944.2 299.6 L945.1 304.5 L950.9 307.4 L956.7 311.2 L958.7 315.1 L957.0 317.5 M957.0 317.5 L962.5 317.0 L964.5 321.9 L966.4 326.7 L971.0 327.0 L975.0 329.0 L978.0 332.5 L981.9 334.4 L987.7 332.5 L991.6 331.5 L997.4 332.5 M1006.0 292.0 L1005.1 297.7 L1004.1 305.4 L1002.2 310.3 L1004.1 317.0 L1000.3 320.0 L996.4 320.0 L993.5 322.8 L995.4 326.7 L997.4 332.5 M1039.0 247.0 L1036.0 254.2 L1031.2 259.0 L1030.2 262.9 L1026.4 268.7 L1022.5 273.5 L1020.6 278.3 L1016.7 284.1 L1010.9 287.0 L1006.0 292.0 M957.0 317.5 L948.0 319.3 L945.5 329.0 L945.5 340.3 L945.5 351.6 L945.0 361.2 L948.6 369.3 M948.6 369.3 L955.1 375.7 L961.5 379.0 L968.0 375.7 L969.6 369.3 L972.8 370.9 L974.4 379.0 L982.5 380.6 L987.3 374.1 L988.9 369.3 L997.0 367.7 L1005.0 369.3 L1013.1 370.9 L1017.9 377.4 L1021.2 385.4 L1027.6 387.0 L1035.7 383.8 M997.4 332.5 L998.6 333.8 L1009.9 338.7 L1017.9 341.9 L1024.4 346.7 L1030.8 350.0 L1037.3 356.4 L1045.3 361.2 L1048.6 364.5 L1040.5 367.7 L1034.0 374.1 L1035.7 380.6 L1035.7 383.8 M1039.0 247.0 L1046.6 252.4 L1053.7 252.4 L1057.2 256.0 L1066.1 256.0 L1067.9 264.8 L1064.3 273.7 L1071.4 277.2 L1076.7 271.9 L1083.8 275.5 L1094.5 280.8 L1105.1 284.3 L1115.7 287.0 M1115.7 287.0 L1108.6 296.7 L1106.9 307.4 M1106.9 307.4 L1098.0 310.9 L1087.4 316.2 L1083.8 323.3 L1076.7 328.6 L1073.2 339.3 L1069.6 349.9 L1069.6 360.5 L1073.2 367.6 L1076.7 374.7 L1073.2 381.8 L1069.6 388.9 L1059.0 388.9 L1048.4 386.0 L1041.0 384.5 L1035.7 383.8 M1115.7 287.0 L1119.3 291.4 L1126.4 300.3 L1133.5 296.7 L1144.1 296.7 L1149.4 295.0 L1158.3 300.3 L1165.4 307.4 L1170.7 309.1 L1179.5 305.6 L1185.8 303.8 L1191.6 308.2 L1195.9 305.3 L1201.7 306.7 L1209.0 306.7 L1216.2 306.0 L1219.0 306.7 M1219.0 306.7 L1223.5 314.0 L1226.4 318.3 L1223.5 325.6 L1224.9 332.8 L1227.8 341.5 L1224.9 350.2 L1223.5 361.8 L1222.0 372.0 L1216.2 379.2 L1216.2 383.6 L1217.7 389.3 L1209.0 396.6 L1203.2 401.0 L1198.8 408.2 L1203.2 414.0 L1206.1 419.8 L1203.2 425.6 L1200.3 429.9 L1201.0 436.0 M1201.0 436.0 L1202.5 443.0 M1219.0 306.7 L1217.7 299.5 L1219.1 290.8 L1223.5 290.8 L1232.2 293.7 L1240.0 296.6 L1249.3 296.7 L1256.7 302.2 L1269.7 302.2 L1275.2 311.5 L1277.1 326.3 L1286.4 326.3 L1293.0 325.0 L1299.3 326.3 M1299.3 326.3 L1308.6 324.5 L1316.0 324.5 L1317.9 333.7 L1327.1 330.0 L1338.3 328.2 L1347.5 330.0 L1356.8 333.7 L1366.1 328.2 L1375.3 322.6 L1386.4 318.9 L1397.6 322.6 L1405.0 330.0 L1410.0 332.0 L1415.0 334.0 M1415.0 334.0 L1412.4 337.5 L1403.1 339.3 L1401.3 344.9 L1406.8 352.3 L1408.7 361.5 L1408.7 369.0 L1406.8 376.4 L1401.3 383.8 L1390.2 391.2 L1380.9 395.0 M1380.9 395.0 L1371.6 400.5 L1360.5 407.9 L1349.4 415.3 L1343.8 420.8 L1340.1 428.3 L1336.4 437.5 L1327.1 441.2 L1316.0 443.1 L1304.9 446.8 L1297.0 449.0 M1202.5 443.0 L1203.2 448.8 L1197.4 457.5 L1191.6 463.3 L1192.0 468.0 M1192.0 468.0 L1194.2 473.7 L1197.5 479.0 L1197.0 486.0 L1195.0 493.2 L1193.0 501.0 M1193.0 501.0 L1196.0 507.4 L1203.1 514.5 L1213.7 519.8 L1217.0 521.0 M1297.0 449.0 L1282.7 452.4 L1271.5 457.9 L1260.4 465.3 L1251.2 472.7 L1243.7 482.0 L1236.3 489.4 L1230.8 495.0 L1240.0 500.5 L1243.7 504.2 L1236.3 510.0 L1224.4 514.5 L1217.0 521.0 M1217.0 521.0 L1213.7 528.6 L1208.4 539.3 L1201.3 549.9 L1192.5 560.5 L1185.4 567.6 L1181.8 574.7 L1178.3 585.4 L1171.2 594.2 L1165.0 602.0 M1022.8 464.4 L1029.5 463.0 L1040.2 470.1 L1047.3 475.5 L1057.0 484.0 M1057.0 484.0 L1057.9 493.2 L1061.5 500.3 L1061.5 510.9 L1059.7 519.8 L1050.8 521.5 L1049.0 528.6 L1043.7 537.5 M1043.7 537.5 L1047.3 541.0 L1052.6 548.1 L1061.5 555.2 L1070.2 562.3 L1072.5 570.0 L1075.0 576.0 L1082.0 578.0 L1089.0 579.0 M1089.0 579.0 L1087.9 587.1 L1086.1 599.5 L1080.8 606.6 L1071.9 612.0 L1066.6 622.6 L1066.0 635.0 M1089.0 579.0 L1103.8 578.3 L1110.9 580.0 L1110.9 585.4 L1112.7 590.7 L1116.0 587.0 M1193.0 501.0 L1181.8 502.0 L1174.7 500.3 L1167.6 496.7 L1162.3 498.5 L1160.5 507.4 L1151.7 507.4 L1149.9 512.7 L1153.5 518.0 L1155.2 528.6 L1153.5 535.7 L1157.0 539.3 L1149.9 546.4 L1139.3 551.7 L1137.5 557.0 L1132.2 565.9 L1128.6 571.2 L1121.5 573.0 L1116.2 578.3 L1116.0 587.0 M912.0 462.0 L905.7 464.1 L900.0 470.0 L893.0 478.0 L884.5 484.2 L881.3 490.5 L880.3 498.9 L873.0 498.9 L868.8 504.1 L864.6 510.4 L856.0 512.0 M856.0 512.0 L856.2 517.7 L853.0 524.0 L852.0 530.3 L852.0 536.6 L845.7 538.7 L842.6 542.9 L838.0 545.0 M912.0 462.0 L914.3 466.6 L921.4 471.9 L921.4 479.0 L917.9 489.6 L914.9 501.0 L918.0 507.2 L924.3 513.5 L928.5 517.7 L934.8 524.0 L938.9 529.2 L942.1 537.6 L939.0 545.0 L937.9 553.3 L941.0 550.2 L945.2 553.3 L948.4 558.0 L949.0 562.0 M949.0 562.0 L948.0 567.0 L946.0 572.0 M838.0 545.0 L847.8 546.0 L855.1 555.4 L862.5 549.1 L871.9 552.3 L877.1 557.5 L886.6 559.6 L897.0 564.9 L905.4 568.0 L907.5 570.1 L903.3 574.3 L898.1 579.5 L888.7 584.8 L886.6 587.9 L890.8 589.0 L899.1 583.7 L911.7 575.3 L919.0 572.2 L927.4 570.1 L934.8 571.1 L940.0 570.1 L946.0 572.0 M660.0 377.0 L667.7 375.5 L674.1 376.3 L680.6 377.9 L688.6 378.7 L691.9 383.5 L691.0 393.2 L689.4 401.2 L691.9 407.7 L699.9 407.7 L708.0 409.3 L716.0 417.4 L712.8 425.4 L708.0 431.9 L703.1 438.3 L697.5 446.4 M697.5 446.4 L690.2 448.0 L680.6 451.2 L675.7 456.0 L672.5 465.7 L661.2 468.9 L659.6 473.8 L666.0 477.2 L667.7 487.9 L666.0 502.0 L664.2 514.5 L666.0 523.3 L664.2 535.7 L662.4 542.8 L662.0 546.0 M662.0 546.0 L674.3 545.1 L685.9 539.3 L697.5 533.5 L709.1 527.7 L718.8 533.5 L722.6 541.3 L730.4 545.1 L742.0 541.3 L748.0 545.0 M748.0 545.0 L757.4 552.9 L765.2 554.8 L772.9 550.9 L774.5 564.0 M838.0 545.0 L834.4 546.4 L830.8 551.7 L825.5 553.5 L818.4 553.5 L813.1 557.0 L806.0 562.3 L800.7 560.5 L791.8 562.3 L784.7 564.1 L774.5 564.0 M774.5 564.0 L773.0 576.0 L771.0 587.7 L778.7 589.6 L776.8 597.4 L786.4 601.2 L788.4 610.9 L784.5 616.7 L792.3 624.4 L800.0 632.2 L806.0 637.0 M806.0 637.0 L812.0 637.5 L819.3 636.0 L825.0 634.0 M662.0 546.0 L649.1 547.1 L649.1 558.7 L658.8 570.3 L656.9 583.8 L651.1 589.6 L649.1 603.2 L633.7 605.1 L620.1 603.2 L606.6 602.2 L614.3 610.9 L620.1 620.6 L625.9 628.3 L627.9 636.0 L629.8 640.0 M825.0 634.0 L825.0 637.0 L822.6 643.4 L819.5 647.5 L820.5 653.7 L825.7 658.8 L815.4 657.0 L810.3 661.9 L808.2 666.0 L812.3 671.1 L803.0 671.0 L802.1 676.3 L803.9 680.5 L807.7 686.3 L803.9 694.0 L798.0 702.0 M629.8 640.0 L627.9 645.7 L633.7 651.5 L637.5 659.2 L647.2 661.2 L649.1 668.9 L643.3 678.6 L635.6 686.3 L625.9 694.0 L624.0 701.8 L622.0 706.0 L619.0 715.5 L617.1 723.2 L622.9 732.9 L628.7 740.6 L632.5 748.3 L640.3 748.3 L646.0 750.0 M646.0 750.0 L643.0 756.0 L642.2 763.8 L628.7 767.7 L620.9 769.6 L619.0 777.4 L613.2 785.1 L607.4 789.0 L605.5 796.7 L601.6 806.4 L599.7 816.0 L601.6 825.7 L603.5 839.2 L605.5 849.0 M605.5 849.0 L619.0 845.0 L628.7 845.0 L638.3 847.0 L646.1 852.8 L655.8 856.6 L660.0 859.3 L672.1 867.8 L679.3 876.3 L683.0 883.5 L687.5 889.0 M646.0 750.0 L648.0 752.2 L655.8 754.1 L657.7 758.0 L667.4 760.0 L673.2 763.8 L675.1 767.7 L682.8 765.8 L686.7 765.8 L690.6 771.6 L700.2 775.4 L706.0 777.0 M706.0 777.0 L713.8 773.5 L721.5 771.6 L723.4 763.8 L727.3 758.0 L735.0 754.1 L742.8 754.1 L744.7 758.0 L740.8 761.9 L744.7 763.8 L750.0 760.0 L752.0 758.0 M752.0 758.0 L756.3 752.2 L756.3 744.5 L754.4 736.7 L752.4 730.9 L758.2 725.1 L767.9 717.4 L775.6 711.6 L785.3 705.8 L793.1 701.9 L798.0 702.0 M687.5 889.0 L681.8 893.2 L680.5 899.2 L684.2 905.3 L692.6 908.9 L696.3 912.5 L693.8 914.9 L695.0 922.2 L698.7 930.6 L703.5 937.9 L708.3 946.3 L710.8 950.0 L718.0 950.0 L724.0 954.8 L728.9 960.8 L734.9 963.3 L742.2 966.9 L744.6 969.3 L750.6 965.7 L756.7 964.5 L759.1 960.8 L757.9 953.6 L762.7 952.4 L766.3 953.6 L767.6 948.8 L770.5 938.0 M770.5 938.0 L776.0 931.8 L780.8 928.2 L788.1 925.8 L795.3 923.4 L801.4 919.8 L807.4 921.0 L814.7 923.4 L821.9 921.0 L824.4 916.1 L831.6 913.7 L835.2 908.9 L838.9 902.8 L843.7 900.4 L853.4 900.4 L860.0 901.6 M798.0 702.0 L809.0 713.5 L818.7 719.3 L828.3 725.1 L838.0 732.8 L845.8 736.7 L853.5 738.6 M853.5 738.6 L867.0 736.7 L880.6 738.6 L888.3 734.8 L896.0 732.8 L905.7 734.8 L907.6 730.9 L915.4 734.8 L925.0 729.0 L934.7 730.9 L944.4 730.9 L950.2 734.8 L954.0 729.0 L965.6 727.0 L971.5 723.5 M971.5 723.5 L983.0 724.8 L986.9 732.8 L992.7 738.0 L994.5 748.3 L992.7 758.0 L990.0 765.0 L988.0 768.5 M988.0 768.5 L996.4 771.3 L1004.3 771.0 M1004.3 771.0 L1008.3 779.1 L1018.4 783.2 L1030.5 787.2 M1030.5 787.2 L1030.5 801.3 L1034.5 811.4 L1042.6 821.4 L1048.6 829.5 L1058.7 833.5 L1058.7 835.6 M1004.3 771.0 L1008.3 765.0 L1012.4 757.0 L1020.4 750.9 L1028.5 746.9 L1036.6 742.9 L1046.6 736.8 L1052.7 736.8 L1056.7 742.9 L1064.8 740.9 L1070.8 736.8 L1068.8 724.8 L1070.8 716.7 L1072.8 708.6 L1080.9 704.6 L1088.9 698.6 L1097.0 700.6 L1105.0 708.6 M1066.0 635.0 L1066.8 632.1 L1072.8 640.1 L1080.9 642.2 L1093.0 646.2 L1093.0 656.3 L1088.9 662.3 L1084.9 670.4 L1088.9 676.4 L1097.0 680.4 L1109.1 680.4 L1111.1 688.5 L1111.0 697.6 M1111.0 697.6 L1111.1 700.6 L1109.1 706.6 L1105.0 708.6 M1105.0 708.6 L1105.0 716.7 L1101.0 724.8 L1101.0 734.8 L1109.1 740.9 L1109.1 748.9 L1105.0 757.0 L1107.1 765.0 L1117.1 777.1 L1127.2 785.2 M1165.0 602.0 L1162.3 610.2 L1158.8 617.3 L1157.4 626.0 L1157.4 636.0 L1159.4 648.0 L1163.5 660.3 L1167.5 670.4 L1173.5 680.4 L1181.6 685.5 M1181.6 685.5 L1189.7 686.5 L1197.6 690.5 L1201.7 696.6 L1193.7 702.6 L1185.6 708.6 L1177.6 716.7 L1169.5 722.7 L1157.4 728.8 L1147.3 738.9 L1145.3 744.9 L1141.3 753.0 L1137.3 757.0 L1133.2 765.0 L1129.2 773.1 L1127.2 785.2 M1127.2 785.2 L1123.2 793.2 L1121.2 799.3 L1127.2 801.3 L1133.2 809.4 L1129.2 811.4 L1117.1 813.4 L1105.0 815.4 L1093.0 817.4 L1080.9 817.4 L1068.8 825.5 L1058.7 835.6 M770.5 938.0 L776.0 931.8 L780.8 928.2 L788.1 925.8 L795.3 923.4 L801.4 919.8 L807.4 921.0 L814.7 923.4 L821.9 921.0 L824.4 916.1 L831.6 913.7 L835.2 908.9 L838.9 902.8 L843.7 900.4 L853.7 901.4 L864.6 899.4 L874.2 900.1 L885.2 898.0 L892.0 899.5 M892.0 899.5 L901.6 898.7 L911.2 902.1 L919.4 902.8 L927.6 899.4 L936.0 898.7 L941.0 898.0 M941.0 898.0 L949.5 898.0 L957.7 898.7 L963.2 902.8 L971.4 904.9 L979.6 904.2 L983.8 898.7 L985.1 893.2 L990.6 890.5 L997.4 891.9 L1002.9 889.1 L1009.8 893.2 L1016.6 900.1 L1023.5 898.7 L1028.9 891.9 L1034.4 885.0 L1038.5 878.2 L1041.3 868.6 L1044.0 857.6 L1048.1 850.8 L1053.6 842.6 L1058.7 835.6" fill="none" stroke="#000" stroke-width="3.0" stroke-linejoin="round" stroke-linecap="round"/>
<path d="M506.0 288.0 L512.0 287.0 L520.0 285.0 L526.5 285.5 L524.0 289.0 L517.0 292.5 L512.0 296.0 L509.0 299.0 L507.0 295.0 Z" fill="#000"/>
<path d="M537.0 299.0 L530.0 302.0 L522.0 306.0 L516.0 310.0 L513.0 315.0 L515.0 320.0 L519.0 322.0 L523.0 317.0 L528.0 313.0 L533.0 307.0 Z" fill="#000"/>
<path d="M519.0 336.0 L525.0 331.0 L531.0 330.0 L538.0 333.0 L543.0 337.0 L541.0 340.0 L534.0 339.0 L527.0 339.0 L522.0 341.0 Z" fill="#000"/>
<path d="M519.0 349.0 L525.0 345.0 L531.0 343.0 L537.0 345.0 L540.0 348.0 L533.0 349.0 L526.0 351.0 L521.0 353.0 Z" fill="#000"/>
<path d="M1356.4 608.2 L1363.8 602.3 L1374.2 594.9 L1383.1 586.0 L1390.5 580.0 L1402.4 571.1 L1409.8 568.9 L1417.2 566.7 L1423.2 565.2 L1421.7 569.7 L1417.2 574.1 L1423.2 575.6 L1418.7 580.0 L1421.7 584.5 L1429.1 586.0 L1435.0 583.0 L1443.9 586.0 L1443.9 594.9 L1441.0 602.3 L1436.5 609.7 L1432.1 618.6 L1429.1 626.0 L1423.2 632.0 L1417.2 634.9 L1411.3 630.5 L1402.4 627.5 L1395.0 626.0 L1392.0 618.6 L1390.5 611.2 L1383.1 608.2 L1377.2 611.2 L1374.2 618.6 L1369.8 617.1 L1366.8 612.7 L1360.9 611.2 Z" fill="#60a0e0" stroke="#000" stroke-width="2.8" stroke-linejoin="round"/>
<path d="M1467.7 553.3 L1476.6 551.9 L1488.4 548.9 L1497.3 553.3 L1503.3 559.3 L1506.2 566.7 L1507.7 574.1 L1500.3 572.6 L1491.4 568.2 L1482.5 563.7 L1473.6 565.2 L1469.1 562.2 L1467.7 556.3 Z" fill="#60a0e0" stroke="#000" stroke-width="2.8" stroke-linejoin="round"/>
<path d="M1274.8 672.0 L1282.2 666.1 L1289.7 660.1 L1300.0 657.2 L1306.0 658.7 L1308.9 664.6 L1303.0 669.0 L1297.1 673.5 L1292.6 679.4 L1286.7 682.4 L1279.3 682.4 L1274.8 680.9 L1274.8 676.5 Z" fill="#60a0e0" stroke="#000" stroke-width="2.8" stroke-linejoin="round"/>
<path d="M1292.6 688.3 L1295.6 694.3 L1301.5 697.2 L1306.0 700.2 L1301.5 701.7 L1292.6 703.2 L1289.7 700.2 L1291.1 694.3 Z" fill="#60a0e0" stroke="#000" stroke-width="2.8" stroke-linejoin="round"/>
<path d="M1405.5 646.5 L1407.5 642.5 L1410.5 641.8 L1412 644.5 L1410.5 648.5 L1407 649.5 Z" fill="#000" stroke="#000" stroke-width="1.2"/>
<circle cx="1231.5" cy="582.7" r="1.8" fill="#000"/>
<path d="M180.8 996.7 L188.5 992.9 L198.8 994.2 L203.9 1004.4 L201.3 1014.7 L198.8 1025.0 L193.6 1032.7 L188.5 1022.4 L183.4 1007.0 Z" fill="#ffffd2" stroke="#000" stroke-width="2.8" stroke-linejoin="round"/>
<path d="M162.8 1102.0 L173.1 1096.8 L183.4 1091.7 L188.5 1096.8 L183.4 1104.5 L180.8 1112.2 L173.1 1107.1 L165.4 1104.5 Z" fill="#ffffd2" stroke="#000" stroke-width="2.8" stroke-linejoin="round"/>
<path d="M234.7 1063.5 L242.4 1057.0 L252.7 1059.6 L257.8 1067.3 L251.4 1075.0 L242.4 1075.0 L236.0 1069.9 Z" fill="#ffffd2" stroke="#000" stroke-width="2.8" stroke-linejoin="round"/>
<path d="M273.2 1042.9 L280.9 1040.4 L293.7 1040.4 L306.6 1035.2 L316.8 1025.0 L329.7 1022.4 L342.5 1021.1 L342.5 1027.5 L329.7 1032.7 L322.0 1040.4 L319.4 1053.2 L314.3 1063.5 L304.0 1073.7 L293.7 1077.6 L288.6 1068.6 L280.9 1055.8 L275.8 1046.8 Z" fill="#ffffd2" stroke="#000" stroke-width="2.8" stroke-linejoin="round"/>
<path d="M368.2 1081.4 L375.9 1068.6 L386.1 1063.5 L396.4 1064.8 L404.1 1062.2 L406.7 1073.7 L406.7 1086.6 L401.5 1096.8 L388.7 1104.5 L375.9 1099.4 L369.5 1091.7 Z" fill="#d6e4f0" stroke="#000" stroke-width="2.8" stroke-linejoin="round"/>
<path d="M483.7 1071.2 L496.5 1068.6 L506.8 1058.3 L509.3 1048.1 L514.5 1032.7 L519.6 1017.3 L527.3 1007.0 L537.6 1004.4 L541.4 1012.1 L540.1 1027.5 L537.6 1042.9 L532.4 1055.8 L517.0 1060.9 L504.2 1066.0 L499.1 1073.7 L488.8 1073.7 Z" fill="#d6e4f0" stroke="#000" stroke-width="2.8" stroke-linejoin="round"/>
<path d="M537.6 991.6 L540.1 981.3 L550.4 971.1 L563.2 965.9 L570.9 960.8 L576.1 963.4 L573.5 973.6 L565.8 983.9 L553.0 986.5 L545.3 994.2 Z" fill="#d6e4f0" stroke="#000" stroke-width="2.8" stroke-linejoin="round"/>
<circle cx="568.4" cy="940.5" r="2.3" fill="#000"/><circle cx="568.6" cy="953" r="2.5" fill="#000"/><circle cx="569.5" cy="958" r="2" fill="#000"/>
<path d="M759 978 L764 976 L771 977.5 L770 982 L765 984 L761 982 Z" fill="#000"/>
<circle cx="957.5" cy="1040.5" r="2.4" fill="#000"/>
<path d="M324 894 L578.3 894 L667.3 965.4" fill="none" stroke="#000" stroke-width="1"/>
<text transform="translate(523.4 273) scale(1.16 1)" class="r">2</text>
<text transform="translate(552.4 273) scale(1.16 1)" class="b">92</text>
<text transform="translate(630.9 282) scale(1.16 1)" class="b">123</text>
<text transform="translate(550.9 310.5) scale(1.16 1)" class="r">2</text>
<text transform="translate(551.4 334.5) scale(1.16 1)" class="b">79</text>
<text transform="translate(618.4 370) scale(1.16 1)" class="b">18</text>
<text transform="translate(700.4 256) scale(1.16 1)" class="r">1</text>
<text transform="translate(743.4 258) scale(1.16 1)" class="b">68</text>
<text transform="translate(866.4 271) scale(1.16 1)" class="b">24</text>
<text transform="translate(908.4 256) scale(1.16 1)" class="r">1</text>
<text transform="translate(743.4 325) scale(1.16 1)" class="b">44</text>
<text transform="translate(722.4 413) scale(1.16 1)" class="r">1</text>
<text transform="translate(746.4 413) scale(1.16 1)" class="b">48</text>
<text transform="translate(835.4 352) scale(1.16 1)" class="b">19</text>
<text transform="translate(838.4 383) scale(1.16 1)" class="r">1</text>
<text transform="translate(903.4 353) scale(1.16 1)" class="b">13</text>
<text transform="translate(971.4 267) scale(1.16 1)" class="b">2</text>
<text transform="translate(1006.4 279) scale(1.16 1)" class="b">3</text>
<text transform="translate(971.4 299) scale(1.16 1)" class="b">3</text>
<text transform="translate(1042.4 323) scale(1.16 1)" class="b">26</text>
<text transform="translate(959.4 360) scale(1.16 1)" class="r">1</text>
<text transform="translate(978.4 360) scale(1.16 1)" class="b">2</text>
<text transform="translate(1170.4 366) scale(1.16 1)" class="b">8</text>
<text transform="translate(1088.4 425) scale(1.16 1)" class="b">2</text>
<text transform="translate(1257.4 378) scale(1.16 1)" class="b">11</text>
<text transform="translate(1378.4 368) scale(1.16 1)" class="b">34</text>
<text transform="translate(1323.4 410) scale(1.16 1)" class="b">14</text>
<text transform="translate(813.4 437) scale(1.16 1)" class="b">5</text>
<text transform="translate(976.4 427) scale(1.16 1)" class="b">2</text>
<text transform="translate(869.4 471) scale(1.16 1)" class="b">8</text>
<text transform="translate(688.4 503) scale(1.16 1)" class="r">4</text>
<text transform="translate(722.4 503) scale(1.16 1)" class="b">35</text>
<text transform="translate(810.4 529) scale(1.16 1)" class="b">21</text>
<text transform="translate(988.4 506) scale(1.16 1)" class="b">1</text>
<text transform="translate(1104.4 519) scale(1.16 1)" class="b">4</text>
<text transform="translate(895.4 538) scale(1.16 1)" class="b">6</text>
<text transform="translate(1173.4 559) scale(1.16 1)" class="b">1</text>
<text transform="translate(675.4 611) scale(1.16 1)" class="r">3</text>
<text transform="translate(713.4 611) scale(1.16 1)" class="b">16</text>
<text transform="translate(836.4 594) scale(1.16 1)" class="b">8</text>
<text transform="translate(1407.4 607) scale(1.16 1)" class="b">23</text>
<text transform="translate(1123.4 649) scale(1.16 1)" class="b">1</text>
<text transform="translate(885.4 700) scale(1.16 1)" class="b">1</text>
<text transform="translate(1027.4 702) scale(1.16 1)" class="b">1</text>
<text transform="translate(651.4 728) scale(1.16 1)" class="r">1</text>
<text transform="translate(687.4 728) scale(1.16 1)" class="b">6</text>
<text transform="translate(808.4 783) scale(1.16 1)" class="b">5</text>
<text transform="translate(914.4 782) scale(1.16 1)" class="b">2</text>
<text transform="translate(1070.4 792) scale(1.16 1)" class="b">2</text>
<text transform="translate(640.4 819) scale(1.16 1)" class="b">2</text>
<text transform="translate(727.4 827) scale(1.16 1)" class="b">1</text>
<text transform="translate(464.4 1010) scale(1.16 1)" class="b">2</text>
</svg>
<div id="leg">
<div class="sw" style="top:43.0px;background:#d6e4f0"></div>
<div class="sw" style="top:71.6px;background:#a6caea"></div>
<div class="sw" style="top:100.2px;background:#60a0e0"></div>
<div class="sw" style="top:128.8px;background:#2568cd"></div>
<div class="sw" style="top:157.4px;background:#3446a9"></div>
<div class="sw" style="top:186.0px;background:#0b0c96"></div>
</div>
<div id="tot">

</div>
<svg width="1753" height="1241" viewBox="0 0 1753 1241">
<g>
<g id="pil">
<path d="M1239.2 156.5 Q1239.5 152.5 1242.8 152.3 Q1246 152.5 1246.3 156.5 Z" fill="#9c5a26"/>
<rect x="1239" y="156.3" width="7.6" height="4.8" fill="#b8962c"/>
<rect x="1240.2" y="161" width="5.2" height="28.6" fill="#dedede" stroke="#b8962c" stroke-width="0.6"/>
<rect x="1239" y="189.4" width="7.6" height="4.6" fill="#b8962c"/>
<rect x="1237.9" y="194" width="9.8" height="3.9" fill="#2b5d9b"/>
<path d="M1238.5 196 Q1240.5 194.8 1242.7 196 Q1244.9 197.2 1247 196" stroke="#e8e8e8" stroke-width="0.8" fill="none"/>
</g>
<use href="#pil" transform="translate(48.3 0)"/>
<path d="M1236 169.5 Q1243 166.5 1251 170.5 L1251 174 Q1243 170.5 1239 172.5 Q1246 178 1240.5 185.5 L1237.5 183.5 Q1242.5 178 1236 173.5 Z" fill="#c41a2a"/>
<path d="M1298 169.5 Q1291 166.5 1283 170.5 L1283 174 Q1291 170.5 1295 172.5 Q1288 178 1293.5 185.5 L1296.5 183.5 Q1291.5 178 1298 173.5 Z" fill="#c41a2a"/>
<path d="M1251.5 150 Q1250 140 1258 138.5 Q1262 137.8 1266.3 139 Q1270.5 137.8 1274.5 138.5 Q1283 140 1282.5 150 Z" fill="#c8102e"/>
<path d="M1251.5 150 Q1250 140 1258 138.5 Q1262 137.8 1266.3 139 Q1270.5 137.8 1274.5 138.5 Q1283 140 1282.5 150 M1258 138.5 Q1262 143 1261 150 M1274.5 138.5 Q1271 143 1272 150 M1266.3 139 L1266.3 150" fill="none" stroke="#c9a227" stroke-width="1.3"/>
<rect x="1265.5" y="133.8" width="1.6" height="5" fill="#c9a227"/><rect x="1264.3" y="135.2" width="4" height="1.4" fill="#c9a227"/>
<rect x="1253" y="150" width="27.5" height="6.5" fill="#c9a227"/>
<path d="M1254 151.5 L1279.5 151.5" stroke="#a0281e" stroke-width="1.2"/>
<path d="M1250.8 157.2 L1283.7 157.2 L1283.7 186 Q1283.7 197.5 1267.2 197.5 Q1250.8 197.5 1250.8 186 Z" fill="#c8102e"/>
<rect x="1267" y="157.2" width="16.7" height="19.4" fill="#e6e6e6"/>
<path d="M1257 174 L1257 165 L1255.5 165 L1255.5 162 L1258 162 L1258 163.5 L1259.5 163.5 L1259.5 160.5 L1261.5 160.5 L1261.5 163.5 L1263 163.5 L1263 162 L1265 162 L1265 165 L1263.8 165 L1263.8 174 Z" fill="#d9a521"/>
<path d="M1271 173 Q1270 167 1273 164 Q1272 161 1275 160.5 Q1277 161.5 1276.5 163.5 Q1280 164 1280.5 168 Q1278 170 1278.5 173.5 L1276 172 Q1275 169.5 1273.5 171 Z" fill="#c060c0"/>
<g fill="#e0b020"><rect x="1252.5" y="176.6" width="2.2" height="19"/><rect x="1256.6" y="176.6" width="2.2" height="20.5"/><rect x="1260.7" y="176.6" width="2.2" height="21"/><rect x="1264.8" y="176.6" width="2.2" height="21"/></g>
<path d="M1269 180 L1282 194 M1282 180 L1269 194 M1275.5 178 L1275.5 196 M1268.5 187 L1282.5 187" stroke="#d9a521" stroke-width="0.9"/>
<ellipse cx="1267.2" cy="176.6" rx="4.3" ry="5.2" fill="#1f4f9f" stroke="#c8102e" stroke-width="1.1"/>
<path d="M1264 195.5 Q1267.2 192 1270.4 195.5 Z" fill="#f0f0f0" stroke="#3a8a3a" stroke-width="0.6"/>
</g>
<g style="font-family:'Liberation Sans',sans-serif;font-size:11.6px;fill:#2a2520">
<text x="1311" y="165.5" textLength="59.5" lengthAdjust="spacingAndGlyphs">GOBIERNO</text>
<text x="1311" y="177.8" textLength="59" lengthAdjust="spacingAndGlyphs">DE ESPAÑA</text>
<text x="1402.3" y="165" textLength="58.5" lengthAdjust="spacingAndGlyphs">MINISTERIO</text>
<text x="1402.3" y="177.4" textLength="125.7" lengthAdjust="spacingAndGlyphs">DE AGRICULTURA, PESCA</text>
<text x="1402.3" y="189" textLength="88.3" lengthAdjust="spacingAndGlyphs">Y ALIMENTACIÓN</text>
</g>
<text x="208" y="176.8" class="tt" style="fill:#cfd6e2">Focos de EEB por provincia desde el año 2000</text>
<text x="206" y="174.8" class="tt" style="fill:#4b484e">Focos de EEB por provincia desde el año 2000</text>
<text x="1415" y="784.8" style="font-size:19px;letter-spacing:0.4px">Nº total focos</text>
<rect x="1415.5" y="786.2" width="116.5" height="1.3" fill="#000"/>
<text x="1301" y="1020.5" style="font-size:22.8px">Total:</text><text x="1365" y="1020.5" style="font-size:22.8px">803 focos</text>
<text x="1287" y="1058.5" style="font-size:19.5px;letter-spacing:0.35px">A 31 de diciembre 2024</text>
<path d="M1242.1 1097.1 L1243 1095.5 L1245.4 1093.3 L1249 1090.2 L1252.2 1089.4 L1255.2 1088.2 L1257.7 1088.2 L1257.9 1091.6 L1259.5 1091.2 L1261.6 1093.3 L1261.8 1095.5 L1260.9 1097.6 L1258.7 1099.6 L1256.6 1100.8 L1253.1 1100.8 L1252.2 1100.1 L1251.7 1100.8 L1249.2 1100.8 L1248.3 1098.3 L1247.9 1097.6 L1245.6 1097.6 L1244.6 1097.8 L1242.3 1097.8 Z" fill="#000"/>
<path d="M1242.1 1097.1 L1243 1095.5 L1245.4 1093.3 L1249 1090.2 L1252.2 1089.4 L1255.2 1088.2 L1257.7 1088.2 L1257.9 1091.6 L1259.5 1091.2 L1261.6 1093.3 L1261.8 1095.5 L1260.9 1097.6 L1258.7 1099.6 L1256.6 1100.8 L1253.1 1100.8 L1252.2 1100.1 L1251.7 1100.8 L1249.2 1100.8 L1248.3 1098.3 L1247.9 1097.6 L1245.6 1097.6 L1244.6 1097.8 L1242.3 1097.8 Z" fill="#a80000" stroke="#7a0000" stroke-width="0.6" transform="translate(157 0)"/>
<text x="1280" y="1099.9" style="font-size:16.7px;letter-spacing:0.7px">EEB Clásica</text>
<text x="1436" y="1099.9" style="font-size:16.7px;letter-spacing:0.7px">EEB Atípica</text>
<text x="1471" y="818.5" class="lg">1 - 10</text>
<text x="1471" y="847.1" class="lg">11 - 20</text>
<text x="1471" y="875.7" class="lg">21 - 40</text>
<text x="1471" y="904.3" class="lg">41 - 60</text>
<text x="1471" y="932.9" class="lg">61 - 80</text>
<text x="1471" y="961.5" class="lg">&gt; 81</text>
</svg>
</body></html>
